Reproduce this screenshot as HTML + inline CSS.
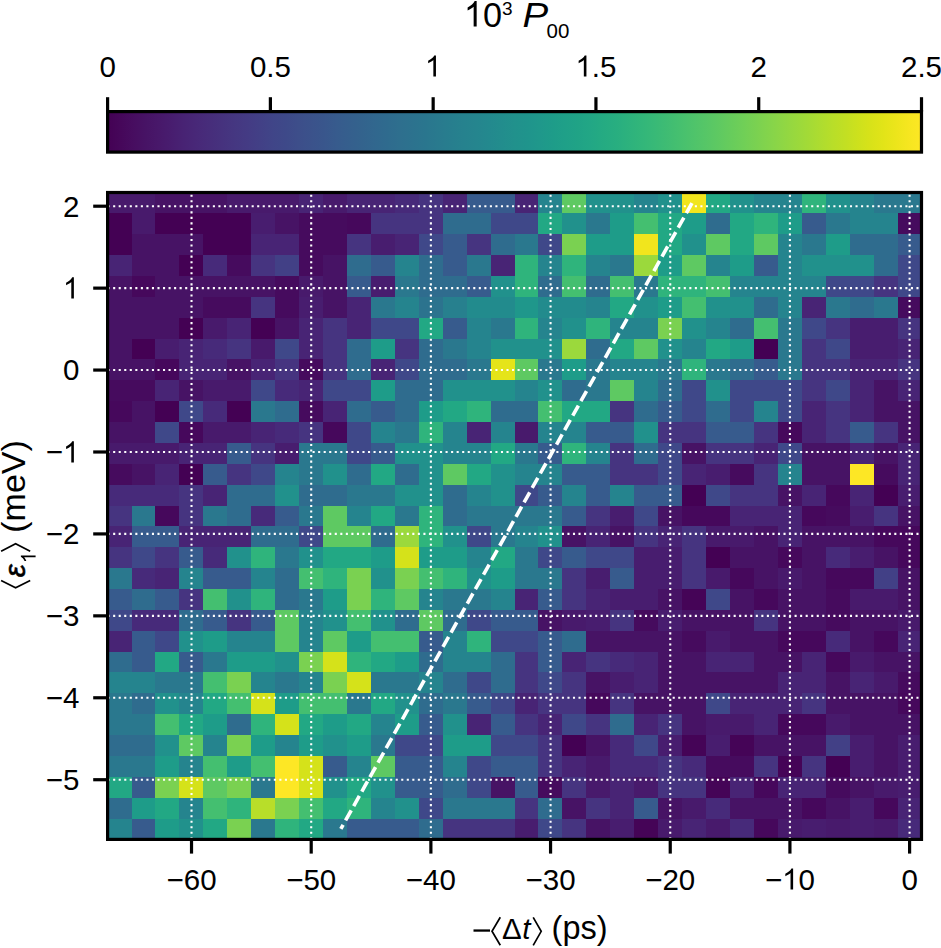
<!DOCTYPE html><html><head><meta charset="utf-8"><style>html,body{margin:0;padding:0;background:#fff;overflow:hidden}svg{display:block}text{font-family:"Liberation Sans",sans-serif;fill:#000}</style></head><body>
<svg width="941" height="948" viewBox="0 0 941 948">
<rect width="941" height="948" fill="#fff"/>
<defs><linearGradient id="vg" x1="0" x2="1" y1="0" y2="0">
<stop offset="0.0000" stop-color="#440154"/>
<stop offset="0.0156" stop-color="#46075a"/>
<stop offset="0.0312" stop-color="#470d60"/>
<stop offset="0.0469" stop-color="#471365"/>
<stop offset="0.0625" stop-color="#48186a"/>
<stop offset="0.0781" stop-color="#481d6f"/>
<stop offset="0.0938" stop-color="#482374"/>
<stop offset="0.1094" stop-color="#482878"/>
<stop offset="0.1250" stop-color="#472d7b"/>
<stop offset="0.1406" stop-color="#46327e"/>
<stop offset="0.1562" stop-color="#453781"/>
<stop offset="0.1719" stop-color="#443b84"/>
<stop offset="0.1875" stop-color="#424086"/>
<stop offset="0.2031" stop-color="#404588"/>
<stop offset="0.2188" stop-color="#3e4989"/>
<stop offset="0.2344" stop-color="#3d4e8a"/>
<stop offset="0.2500" stop-color="#3b528b"/>
<stop offset="0.2656" stop-color="#39568c"/>
<stop offset="0.2812" stop-color="#375b8d"/>
<stop offset="0.2969" stop-color="#355f8d"/>
<stop offset="0.3125" stop-color="#33638d"/>
<stop offset="0.3281" stop-color="#31678e"/>
<stop offset="0.3438" stop-color="#2f6b8e"/>
<stop offset="0.3594" stop-color="#2e6f8e"/>
<stop offset="0.3750" stop-color="#2c728e"/>
<stop offset="0.3906" stop-color="#2a768e"/>
<stop offset="0.4062" stop-color="#297a8e"/>
<stop offset="0.4219" stop-color="#277e8e"/>
<stop offset="0.4375" stop-color="#26828e"/>
<stop offset="0.4531" stop-color="#25858e"/>
<stop offset="0.4688" stop-color="#23898e"/>
<stop offset="0.4844" stop-color="#228d8d"/>
<stop offset="0.5000" stop-color="#21918c"/>
<stop offset="0.5156" stop-color="#1f948c"/>
<stop offset="0.5312" stop-color="#1f988b"/>
<stop offset="0.5469" stop-color="#1e9c89"/>
<stop offset="0.5625" stop-color="#1fa088"/>
<stop offset="0.5781" stop-color="#20a386"/>
<stop offset="0.5938" stop-color="#22a785"/>
<stop offset="0.6094" stop-color="#25ab82"/>
<stop offset="0.6250" stop-color="#28ae80"/>
<stop offset="0.6406" stop-color="#2db27d"/>
<stop offset="0.6562" stop-color="#32b67a"/>
<stop offset="0.6719" stop-color="#38b977"/>
<stop offset="0.6875" stop-color="#3fbc73"/>
<stop offset="0.7031" stop-color="#46c06f"/>
<stop offset="0.7188" stop-color="#4ec36b"/>
<stop offset="0.7344" stop-color="#56c667"/>
<stop offset="0.7500" stop-color="#5ec962"/>
<stop offset="0.7656" stop-color="#67cc5c"/>
<stop offset="0.7812" stop-color="#70cf57"/>
<stop offset="0.7969" stop-color="#7ad151"/>
<stop offset="0.8125" stop-color="#84d44b"/>
<stop offset="0.8281" stop-color="#8ed645"/>
<stop offset="0.8438" stop-color="#98d83e"/>
<stop offset="0.8594" stop-color="#a2da37"/>
<stop offset="0.8750" stop-color="#addc30"/>
<stop offset="0.8906" stop-color="#b8de29"/>
<stop offset="0.9062" stop-color="#c2df23"/>
<stop offset="0.9219" stop-color="#cde11d"/>
<stop offset="0.9375" stop-color="#d8e219"/>
<stop offset="0.9531" stop-color="#e2e418"/>
<stop offset="0.9688" stop-color="#ece51b"/>
<stop offset="0.9844" stop-color="#f6e620"/>
<stop offset="1.0000" stop-color="#fde725"/>
</linearGradient></defs>
<rect x="107.60" y="111.60" width="813.90" height="40.50" fill="url(#vg)"/>
<rect x="107.60" y="111.60" width="813.90" height="40.50" fill="none" stroke="#000" stroke-width="3.2"/>
<line x1="107.60" y1="111.60" x2="107.60" y2="97.2" stroke="#000" stroke-width="3.2"/>
<text x="99.40" y="76.60" font-size="29.50">0</text>
<line x1="270.38" y1="111.60" x2="270.38" y2="97.2" stroke="#000" stroke-width="3.2"/>
<text x="249.88" y="76.60" font-size="29.50">0.5</text>
<line x1="433.16" y1="111.60" x2="433.16" y2="97.2" stroke="#000" stroke-width="3.2"/>
<path transform="translate(424.96 76.60) scale(0.01440 -0.01440)" d="M763 0L583 0L583 1147Q518 1085 412 1023Q306 961 222 930L222 1104Q373 1175 486 1276Q599 1377 646 1472L763 1472Z"/>
<line x1="595.94" y1="111.60" x2="595.94" y2="97.2" stroke="#000" stroke-width="3.2"/>
<path transform="translate(575.44 76.60) scale(0.01440 -0.01440)" d="M763 0L583 0L583 1147Q518 1085 412 1023Q306 961 222 930L222 1104Q373 1175 486 1276Q599 1377 646 1472L763 1472Z"/><text x="591.84" y="76.60" font-size="29.50">.5</text>
<line x1="758.72" y1="111.60" x2="758.72" y2="97.2" stroke="#000" stroke-width="3.2"/>
<text x="750.52" y="76.60" font-size="29.50">2</text>
<line x1="921.50" y1="111.60" x2="921.50" y2="97.2" stroke="#000" stroke-width="3.2"/>
<text x="901.00" y="76.60" font-size="29.50">2.5</text>
<g transform="translate(463.9 26.6) scale(0.965 1)"><path transform="translate(0.00 0.00) scale(0.01733 -0.01733)" d="M763 0L583 0L583 1147Q518 1085 412 1023Q306 961 222 930L222 1104Q373 1175 486 1276Q599 1377 646 1472L763 1472Z"/><text x="19.74" y="0.00" font-size="35.50">0</text></g>
<text x="502.0" y="14.8" font-size="19">3</text>
<text transform="translate(522.6 26.5) scale(1.1 1)" x="0" y="0" font-size="35" font-style="italic">P</text>
<text x="546.5" y="37.6" font-size="20.5">00</text>
<g shape-rendering="crispEdges">
<rect x="107.60" y="192.50" width="24.54" height="21.47" fill="#481a6c"/>
<rect x="131.54" y="192.50" width="24.54" height="21.47" fill="#481a6c"/>
<rect x="155.48" y="192.50" width="24.54" height="21.47" fill="#471365"/>
<rect x="179.41" y="192.50" width="24.54" height="21.47" fill="#471365"/>
<rect x="203.35" y="192.50" width="24.54" height="21.47" fill="#471365"/>
<rect x="227.29" y="192.50" width="24.54" height="21.47" fill="#481a6c"/>
<rect x="251.23" y="192.50" width="24.54" height="21.47" fill="#481a6c"/>
<rect x="275.17" y="192.50" width="24.54" height="21.47" fill="#481a6c"/>
<rect x="299.11" y="192.50" width="24.54" height="21.47" fill="#482475"/>
<rect x="323.04" y="192.50" width="24.54" height="21.47" fill="#481a6c"/>
<rect x="346.98" y="192.50" width="24.54" height="21.47" fill="#482475"/>
<rect x="370.92" y="192.50" width="24.54" height="21.47" fill="#482475"/>
<rect x="394.86" y="192.50" width="24.54" height="21.47" fill="#472a7a"/>
<rect x="418.80" y="192.50" width="24.54" height="21.47" fill="#463480"/>
<rect x="442.74" y="192.50" width="24.54" height="21.47" fill="#482475"/>
<rect x="466.67" y="192.50" width="24.54" height="21.47" fill="#375b8d"/>
<rect x="490.61" y="192.50" width="24.54" height="21.47" fill="#375b8d"/>
<rect x="514.55" y="192.50" width="24.54" height="21.47" fill="#482475"/>
<rect x="538.49" y="192.50" width="24.54" height="21.47" fill="#25848e"/>
<rect x="562.43" y="192.50" width="24.54" height="21.47" fill="#5ec962"/>
<rect x="586.36" y="192.50" width="24.54" height="21.47" fill="#21918c"/>
<rect x="610.30" y="192.50" width="24.54" height="21.47" fill="#21918c"/>
<rect x="634.24" y="192.50" width="24.54" height="21.47" fill="#25848e"/>
<rect x="658.18" y="192.50" width="24.54" height="21.47" fill="#21918c"/>
<rect x="682.12" y="192.50" width="24.54" height="21.47" fill="#f1e51d"/>
<rect x="706.06" y="192.50" width="24.54" height="21.47" fill="#22a884"/>
<rect x="729.99" y="192.50" width="24.54" height="21.47" fill="#21918c"/>
<rect x="753.93" y="192.50" width="24.54" height="21.47" fill="#25848e"/>
<rect x="777.87" y="192.50" width="24.54" height="21.47" fill="#25848e"/>
<rect x="801.81" y="192.50" width="24.54" height="21.47" fill="#2fb47c"/>
<rect x="825.75" y="192.50" width="24.54" height="21.47" fill="#21918c"/>
<rect x="849.69" y="192.50" width="24.54" height="21.47" fill="#25848e"/>
<rect x="873.62" y="192.50" width="24.54" height="21.47" fill="#2a788e"/>
<rect x="897.56" y="192.50" width="24.54" height="21.47" fill="#2a788e"/>
<rect x="107.60" y="213.37" width="24.54" height="21.47" fill="#440154"/>
<rect x="131.54" y="213.37" width="24.54" height="21.47" fill="#481a6c"/>
<rect x="155.48" y="213.37" width="24.54" height="21.47" fill="#440154"/>
<rect x="179.41" y="213.37" width="24.54" height="21.47" fill="#440154"/>
<rect x="203.35" y="213.37" width="24.54" height="21.47" fill="#440154"/>
<rect x="227.29" y="213.37" width="24.54" height="21.47" fill="#440154"/>
<rect x="251.23" y="213.37" width="24.54" height="21.47" fill="#481d6f"/>
<rect x="275.17" y="213.37" width="24.54" height="21.47" fill="#471365"/>
<rect x="299.11" y="213.37" width="24.54" height="21.47" fill="#460b5e"/>
<rect x="323.04" y="213.37" width="24.54" height="21.47" fill="#460b5e"/>
<rect x="346.98" y="213.37" width="24.54" height="21.47" fill="#46085c"/>
<rect x="370.92" y="213.37" width="24.54" height="21.47" fill="#463480"/>
<rect x="394.86" y="213.37" width="24.54" height="21.47" fill="#463480"/>
<rect x="418.80" y="213.37" width="24.54" height="21.47" fill="#463480"/>
<rect x="442.74" y="213.37" width="24.54" height="21.47" fill="#2f6c8e"/>
<rect x="466.67" y="213.37" width="24.54" height="21.47" fill="#2f6c8e"/>
<rect x="490.61" y="213.37" width="24.54" height="21.47" fill="#3f4889"/>
<rect x="514.55" y="213.37" width="24.54" height="21.47" fill="#3f4889"/>
<rect x="538.49" y="213.37" width="24.54" height="21.47" fill="#22a884"/>
<rect x="562.43" y="213.37" width="24.54" height="21.47" fill="#21918c"/>
<rect x="586.36" y="213.37" width="24.54" height="21.47" fill="#2a788e"/>
<rect x="610.30" y="213.37" width="24.54" height="21.47" fill="#1e9c89"/>
<rect x="634.24" y="213.37" width="24.54" height="21.47" fill="#44bf70"/>
<rect x="658.18" y="213.37" width="24.54" height="21.47" fill="#22a884"/>
<rect x="682.12" y="213.37" width="24.54" height="21.47" fill="#1e9c89"/>
<rect x="706.06" y="213.37" width="24.54" height="21.47" fill="#2f6c8e"/>
<rect x="729.99" y="213.37" width="24.54" height="21.47" fill="#22a884"/>
<rect x="753.93" y="213.37" width="24.54" height="21.47" fill="#2fb47c"/>
<rect x="777.87" y="213.37" width="24.54" height="21.47" fill="#1e9c89"/>
<rect x="801.81" y="213.37" width="24.54" height="21.47" fill="#375b8d"/>
<rect x="825.75" y="213.37" width="24.54" height="21.47" fill="#2a788e"/>
<rect x="849.69" y="213.37" width="24.54" height="21.47" fill="#25848e"/>
<rect x="873.62" y="213.37" width="24.54" height="21.47" fill="#25848e"/>
<rect x="897.56" y="213.37" width="24.54" height="21.47" fill="#460b5e"/>
<rect x="107.60" y="234.24" width="24.54" height="21.47" fill="#440154"/>
<rect x="131.54" y="234.24" width="24.54" height="21.47" fill="#471365"/>
<rect x="155.48" y="234.24" width="24.54" height="21.47" fill="#471365"/>
<rect x="179.41" y="234.24" width="24.54" height="21.47" fill="#471365"/>
<rect x="203.35" y="234.24" width="24.54" height="21.47" fill="#440154"/>
<rect x="227.29" y="234.24" width="24.54" height="21.47" fill="#440154"/>
<rect x="251.23" y="234.24" width="24.54" height="21.47" fill="#482475"/>
<rect x="275.17" y="234.24" width="24.54" height="21.47" fill="#482475"/>
<rect x="299.11" y="234.24" width="24.54" height="21.47" fill="#460b5e"/>
<rect x="323.04" y="234.24" width="24.54" height="21.47" fill="#460b5e"/>
<rect x="346.98" y="234.24" width="24.54" height="21.47" fill="#463480"/>
<rect x="370.92" y="234.24" width="24.54" height="21.47" fill="#481d6f"/>
<rect x="394.86" y="234.24" width="24.54" height="21.47" fill="#482475"/>
<rect x="418.80" y="234.24" width="24.54" height="21.47" fill="#3f4889"/>
<rect x="442.74" y="234.24" width="24.54" height="21.47" fill="#375b8d"/>
<rect x="466.67" y="234.24" width="24.54" height="21.47" fill="#463480"/>
<rect x="490.61" y="234.24" width="24.54" height="21.47" fill="#2f6c8e"/>
<rect x="514.55" y="234.24" width="24.54" height="21.47" fill="#2a788e"/>
<rect x="538.49" y="234.24" width="24.54" height="21.47" fill="#3f4889"/>
<rect x="562.43" y="234.24" width="24.54" height="21.47" fill="#7ad151"/>
<rect x="586.36" y="234.24" width="24.54" height="21.47" fill="#1e9c89"/>
<rect x="610.30" y="234.24" width="24.54" height="21.47" fill="#1e9c89"/>
<rect x="634.24" y="234.24" width="24.54" height="21.47" fill="#f1e51d"/>
<rect x="658.18" y="234.24" width="24.54" height="21.47" fill="#22a884"/>
<rect x="682.12" y="234.24" width="24.54" height="21.47" fill="#21918c"/>
<rect x="706.06" y="234.24" width="24.54" height="21.47" fill="#5ec962"/>
<rect x="729.99" y="234.24" width="24.54" height="21.47" fill="#22a884"/>
<rect x="753.93" y="234.24" width="24.54" height="21.47" fill="#5ec962"/>
<rect x="777.87" y="234.24" width="24.54" height="21.47" fill="#25848e"/>
<rect x="801.81" y="234.24" width="24.54" height="21.47" fill="#2a788e"/>
<rect x="825.75" y="234.24" width="24.54" height="21.47" fill="#1e9c89"/>
<rect x="849.69" y="234.24" width="24.54" height="21.47" fill="#2f6c8e"/>
<rect x="873.62" y="234.24" width="24.54" height="21.47" fill="#2f6c8e"/>
<rect x="897.56" y="234.24" width="24.54" height="21.47" fill="#375b8d"/>
<rect x="107.60" y="255.10" width="24.54" height="21.47" fill="#482475"/>
<rect x="131.54" y="255.10" width="24.54" height="21.47" fill="#471365"/>
<rect x="155.48" y="255.10" width="24.54" height="21.47" fill="#471365"/>
<rect x="179.41" y="255.10" width="24.54" height="21.47" fill="#440154"/>
<rect x="203.35" y="255.10" width="24.54" height="21.47" fill="#472a7a"/>
<rect x="227.29" y="255.10" width="24.54" height="21.47" fill="#460b5e"/>
<rect x="251.23" y="255.10" width="24.54" height="21.47" fill="#463480"/>
<rect x="275.17" y="255.10" width="24.54" height="21.47" fill="#424086"/>
<rect x="299.11" y="255.10" width="24.54" height="21.47" fill="#460b5e"/>
<rect x="323.04" y="255.10" width="24.54" height="21.47" fill="#471365"/>
<rect x="346.98" y="255.10" width="24.54" height="21.47" fill="#2f6c8e"/>
<rect x="370.92" y="255.10" width="24.54" height="21.47" fill="#375b8d"/>
<rect x="394.86" y="255.10" width="24.54" height="21.47" fill="#25848e"/>
<rect x="418.80" y="255.10" width="24.54" height="21.47" fill="#2f6c8e"/>
<rect x="442.74" y="255.10" width="24.54" height="21.47" fill="#375b8d"/>
<rect x="466.67" y="255.10" width="24.54" height="21.47" fill="#2a788e"/>
<rect x="490.61" y="255.10" width="24.54" height="21.47" fill="#482475"/>
<rect x="514.55" y="255.10" width="24.54" height="21.47" fill="#2fb47c"/>
<rect x="538.49" y="255.10" width="24.54" height="21.47" fill="#25848e"/>
<rect x="562.43" y="255.10" width="24.54" height="21.47" fill="#2fb47c"/>
<rect x="586.36" y="255.10" width="24.54" height="21.47" fill="#25848e"/>
<rect x="610.30" y="255.10" width="24.54" height="21.47" fill="#2a788e"/>
<rect x="634.24" y="255.10" width="24.54" height="21.47" fill="#9bd93c"/>
<rect x="658.18" y="255.10" width="24.54" height="21.47" fill="#1e9c89"/>
<rect x="682.12" y="255.10" width="24.54" height="21.47" fill="#5ec962"/>
<rect x="706.06" y="255.10" width="24.54" height="21.47" fill="#25848e"/>
<rect x="729.99" y="255.10" width="24.54" height="21.47" fill="#1e9c89"/>
<rect x="753.93" y="255.10" width="24.54" height="21.47" fill="#375b8d"/>
<rect x="777.87" y="255.10" width="24.54" height="21.47" fill="#25848e"/>
<rect x="801.81" y="255.10" width="24.54" height="21.47" fill="#21918c"/>
<rect x="825.75" y="255.10" width="24.54" height="21.47" fill="#21918c"/>
<rect x="849.69" y="255.10" width="24.54" height="21.47" fill="#21918c"/>
<rect x="873.62" y="255.10" width="24.54" height="21.47" fill="#2f6c8e"/>
<rect x="897.56" y="255.10" width="24.54" height="21.47" fill="#3f4889"/>
<rect x="107.60" y="275.97" width="24.54" height="21.47" fill="#471365"/>
<rect x="131.54" y="275.97" width="24.54" height="21.47" fill="#46085c"/>
<rect x="155.48" y="275.97" width="24.54" height="21.47" fill="#471365"/>
<rect x="179.41" y="275.97" width="24.54" height="21.47" fill="#471365"/>
<rect x="203.35" y="275.97" width="24.54" height="21.47" fill="#471365"/>
<rect x="227.29" y="275.97" width="24.54" height="21.47" fill="#471365"/>
<rect x="251.23" y="275.97" width="24.54" height="21.47" fill="#471365"/>
<rect x="275.17" y="275.97" width="24.54" height="21.47" fill="#460b5e"/>
<rect x="299.11" y="275.97" width="24.54" height="21.47" fill="#481a6c"/>
<rect x="323.04" y="275.97" width="24.54" height="21.47" fill="#471365"/>
<rect x="346.98" y="275.97" width="24.54" height="21.47" fill="#375b8d"/>
<rect x="370.92" y="275.97" width="24.54" height="21.47" fill="#481d6f"/>
<rect x="394.86" y="275.97" width="24.54" height="21.47" fill="#2a788e"/>
<rect x="418.80" y="275.97" width="24.54" height="21.47" fill="#2f6c8e"/>
<rect x="442.74" y="275.97" width="24.54" height="21.47" fill="#2f6c8e"/>
<rect x="466.67" y="275.97" width="24.54" height="21.47" fill="#375b8d"/>
<rect x="490.61" y="275.97" width="24.54" height="21.47" fill="#21918c"/>
<rect x="514.55" y="275.97" width="24.54" height="21.47" fill="#2fb47c"/>
<rect x="538.49" y="275.97" width="24.54" height="21.47" fill="#2f6c8e"/>
<rect x="562.43" y="275.97" width="24.54" height="21.47" fill="#44bf70"/>
<rect x="586.36" y="275.97" width="24.54" height="21.47" fill="#2f6c8e"/>
<rect x="610.30" y="275.97" width="24.54" height="21.47" fill="#44bf70"/>
<rect x="634.24" y="275.97" width="24.54" height="21.47" fill="#2a788e"/>
<rect x="658.18" y="275.97" width="24.54" height="21.47" fill="#2fb47c"/>
<rect x="682.12" y="275.97" width="24.54" height="21.47" fill="#2fb47c"/>
<rect x="706.06" y="275.97" width="24.54" height="21.47" fill="#44bf70"/>
<rect x="729.99" y="275.97" width="24.54" height="21.47" fill="#25848e"/>
<rect x="753.93" y="275.97" width="24.54" height="21.47" fill="#25848e"/>
<rect x="777.87" y="275.97" width="24.54" height="21.47" fill="#25848e"/>
<rect x="801.81" y="275.97" width="24.54" height="21.47" fill="#25848e"/>
<rect x="825.75" y="275.97" width="24.54" height="21.47" fill="#3f4889"/>
<rect x="849.69" y="275.97" width="24.54" height="21.47" fill="#3f4889"/>
<rect x="873.62" y="275.97" width="24.54" height="21.47" fill="#463480"/>
<rect x="897.56" y="275.97" width="24.54" height="21.47" fill="#3f4889"/>
<rect x="107.60" y="296.84" width="24.54" height="21.47" fill="#471365"/>
<rect x="131.54" y="296.84" width="24.54" height="21.47" fill="#471365"/>
<rect x="155.48" y="296.84" width="24.54" height="21.47" fill="#471365"/>
<rect x="179.41" y="296.84" width="24.54" height="21.47" fill="#471365"/>
<rect x="203.35" y="296.84" width="24.54" height="21.47" fill="#460b5e"/>
<rect x="227.29" y="296.84" width="24.54" height="21.47" fill="#460b5e"/>
<rect x="251.23" y="296.84" width="24.54" height="21.47" fill="#463480"/>
<rect x="275.17" y="296.84" width="24.54" height="21.47" fill="#460b5e"/>
<rect x="299.11" y="296.84" width="24.54" height="21.47" fill="#481d6f"/>
<rect x="323.04" y="296.84" width="24.54" height="21.47" fill="#471365"/>
<rect x="346.98" y="296.84" width="24.54" height="21.47" fill="#482475"/>
<rect x="370.92" y="296.84" width="24.54" height="21.47" fill="#2a788e"/>
<rect x="394.86" y="296.84" width="24.54" height="21.47" fill="#25848e"/>
<rect x="418.80" y="296.84" width="24.54" height="21.47" fill="#2c738e"/>
<rect x="442.74" y="296.84" width="24.54" height="21.47" fill="#27808e"/>
<rect x="466.67" y="296.84" width="24.54" height="21.47" fill="#228b8d"/>
<rect x="490.61" y="296.84" width="24.54" height="21.47" fill="#228b8d"/>
<rect x="514.55" y="296.84" width="24.54" height="21.47" fill="#1f978b"/>
<rect x="538.49" y="296.84" width="24.54" height="21.47" fill="#228b8d"/>
<rect x="562.43" y="296.84" width="24.54" height="21.47" fill="#228b8d"/>
<rect x="586.36" y="296.84" width="24.54" height="21.47" fill="#25848e"/>
<rect x="610.30" y="296.84" width="24.54" height="21.47" fill="#22a884"/>
<rect x="634.24" y="296.84" width="24.54" height="21.47" fill="#21918c"/>
<rect x="658.18" y="296.84" width="24.54" height="21.47" fill="#1e9c89"/>
<rect x="682.12" y="296.84" width="24.54" height="21.47" fill="#44bf70"/>
<rect x="706.06" y="296.84" width="24.54" height="21.47" fill="#21918c"/>
<rect x="729.99" y="296.84" width="24.54" height="21.47" fill="#21918c"/>
<rect x="753.93" y="296.84" width="24.54" height="21.47" fill="#2f6c8e"/>
<rect x="777.87" y="296.84" width="24.54" height="21.47" fill="#25848e"/>
<rect x="801.81" y="296.84" width="24.54" height="21.47" fill="#482475"/>
<rect x="825.75" y="296.84" width="24.54" height="21.47" fill="#2a788e"/>
<rect x="849.69" y="296.84" width="24.54" height="21.47" fill="#2f6c8e"/>
<rect x="873.62" y="296.84" width="24.54" height="21.47" fill="#2a788e"/>
<rect x="897.56" y="296.84" width="24.54" height="21.47" fill="#460b5e"/>
<rect x="107.60" y="317.71" width="24.54" height="21.47" fill="#471365"/>
<rect x="131.54" y="317.71" width="24.54" height="21.47" fill="#471365"/>
<rect x="155.48" y="317.71" width="24.54" height="21.47" fill="#471365"/>
<rect x="179.41" y="317.71" width="24.54" height="21.47" fill="#440154"/>
<rect x="203.35" y="317.71" width="24.54" height="21.47" fill="#481a6c"/>
<rect x="227.29" y="317.71" width="24.54" height="21.47" fill="#482475"/>
<rect x="251.23" y="317.71" width="24.54" height="21.47" fill="#440154"/>
<rect x="275.17" y="317.71" width="24.54" height="21.47" fill="#471365"/>
<rect x="299.11" y="317.71" width="24.54" height="21.47" fill="#482475"/>
<rect x="323.04" y="317.71" width="24.54" height="21.47" fill="#463480"/>
<rect x="346.98" y="317.71" width="24.54" height="21.47" fill="#482475"/>
<rect x="370.92" y="317.71" width="24.54" height="21.47" fill="#3f4889"/>
<rect x="394.86" y="317.71" width="24.54" height="21.47" fill="#3f4889"/>
<rect x="418.80" y="317.71" width="24.54" height="21.47" fill="#22a884"/>
<rect x="442.74" y="317.71" width="24.54" height="21.47" fill="#375b8d"/>
<rect x="466.67" y="317.71" width="24.54" height="21.47" fill="#25848e"/>
<rect x="490.61" y="317.71" width="24.54" height="21.47" fill="#2a788e"/>
<rect x="514.55" y="317.71" width="24.54" height="21.47" fill="#2fb47c"/>
<rect x="538.49" y="317.71" width="24.54" height="21.47" fill="#25848e"/>
<rect x="562.43" y="317.71" width="24.54" height="21.47" fill="#21918c"/>
<rect x="586.36" y="317.71" width="24.54" height="21.47" fill="#2fb47c"/>
<rect x="610.30" y="317.71" width="24.54" height="21.47" fill="#25848e"/>
<rect x="634.24" y="317.71" width="24.54" height="21.47" fill="#25848e"/>
<rect x="658.18" y="317.71" width="24.54" height="21.47" fill="#7ad151"/>
<rect x="682.12" y="317.71" width="24.54" height="21.47" fill="#21918c"/>
<rect x="706.06" y="317.71" width="24.54" height="21.47" fill="#25848e"/>
<rect x="729.99" y="317.71" width="24.54" height="21.47" fill="#2f6c8e"/>
<rect x="753.93" y="317.71" width="24.54" height="21.47" fill="#44bf70"/>
<rect x="777.87" y="317.71" width="24.54" height="21.47" fill="#2a788e"/>
<rect x="801.81" y="317.71" width="24.54" height="21.47" fill="#3f4889"/>
<rect x="825.75" y="317.71" width="24.54" height="21.47" fill="#463480"/>
<rect x="849.69" y="317.71" width="24.54" height="21.47" fill="#481d6f"/>
<rect x="873.62" y="317.71" width="24.54" height="21.47" fill="#481d6f"/>
<rect x="897.56" y="317.71" width="24.54" height="21.47" fill="#463480"/>
<rect x="107.60" y="338.57" width="24.54" height="21.47" fill="#471365"/>
<rect x="131.54" y="338.57" width="24.54" height="21.47" fill="#440154"/>
<rect x="155.48" y="338.57" width="24.54" height="21.47" fill="#481d6f"/>
<rect x="179.41" y="338.57" width="24.54" height="21.47" fill="#482475"/>
<rect x="203.35" y="338.57" width="24.54" height="21.47" fill="#472a7a"/>
<rect x="227.29" y="338.57" width="24.54" height="21.47" fill="#463480"/>
<rect x="251.23" y="338.57" width="24.54" height="21.47" fill="#481a6c"/>
<rect x="275.17" y="338.57" width="24.54" height="21.47" fill="#3f4889"/>
<rect x="299.11" y="338.57" width="24.54" height="21.47" fill="#482475"/>
<rect x="323.04" y="338.57" width="24.54" height="21.47" fill="#463480"/>
<rect x="346.98" y="338.57" width="24.54" height="21.47" fill="#2f6c8e"/>
<rect x="370.92" y="338.57" width="24.54" height="21.47" fill="#1e9c89"/>
<rect x="394.86" y="338.57" width="24.54" height="21.47" fill="#463480"/>
<rect x="418.80" y="338.57" width="24.54" height="21.47" fill="#2f6c8e"/>
<rect x="442.74" y="338.57" width="24.54" height="21.47" fill="#2a788e"/>
<rect x="466.67" y="338.57" width="24.54" height="21.47" fill="#25848e"/>
<rect x="490.61" y="338.57" width="24.54" height="21.47" fill="#21918c"/>
<rect x="514.55" y="338.57" width="24.54" height="21.47" fill="#21918c"/>
<rect x="538.49" y="338.57" width="24.54" height="21.47" fill="#21918c"/>
<rect x="562.43" y="338.57" width="24.54" height="21.47" fill="#9bd93c"/>
<rect x="586.36" y="338.57" width="24.54" height="21.47" fill="#2f6c8e"/>
<rect x="610.30" y="338.57" width="24.54" height="21.47" fill="#22a884"/>
<rect x="634.24" y="338.57" width="24.54" height="21.47" fill="#5ec962"/>
<rect x="658.18" y="338.57" width="24.54" height="21.47" fill="#21918c"/>
<rect x="682.12" y="338.57" width="24.54" height="21.47" fill="#25848e"/>
<rect x="706.06" y="338.57" width="24.54" height="21.47" fill="#22a884"/>
<rect x="729.99" y="338.57" width="24.54" height="21.47" fill="#1e9c89"/>
<rect x="753.93" y="338.57" width="24.54" height="21.47" fill="#440154"/>
<rect x="777.87" y="338.57" width="24.54" height="21.47" fill="#2a788e"/>
<rect x="801.81" y="338.57" width="24.54" height="21.47" fill="#463480"/>
<rect x="825.75" y="338.57" width="24.54" height="21.47" fill="#3f4889"/>
<rect x="849.69" y="338.57" width="24.54" height="21.47" fill="#481d6f"/>
<rect x="873.62" y="338.57" width="24.54" height="21.47" fill="#481d6f"/>
<rect x="897.56" y="338.57" width="24.54" height="21.47" fill="#482475"/>
<rect x="107.60" y="359.44" width="24.54" height="21.47" fill="#471365"/>
<rect x="131.54" y="359.44" width="24.54" height="21.47" fill="#471365"/>
<rect x="155.48" y="359.44" width="24.54" height="21.47" fill="#46085c"/>
<rect x="179.41" y="359.44" width="24.54" height="21.47" fill="#482475"/>
<rect x="203.35" y="359.44" width="24.54" height="21.47" fill="#482475"/>
<rect x="227.29" y="359.44" width="24.54" height="21.47" fill="#471365"/>
<rect x="251.23" y="359.44" width="24.54" height="21.47" fill="#482475"/>
<rect x="275.17" y="359.44" width="24.54" height="21.47" fill="#463480"/>
<rect x="299.11" y="359.44" width="24.54" height="21.47" fill="#460b5e"/>
<rect x="323.04" y="359.44" width="24.54" height="21.47" fill="#463480"/>
<rect x="346.98" y="359.44" width="24.54" height="21.47" fill="#2f6c8e"/>
<rect x="370.92" y="359.44" width="24.54" height="21.47" fill="#482475"/>
<rect x="394.86" y="359.44" width="24.54" height="21.47" fill="#3f4889"/>
<rect x="418.80" y="359.44" width="24.54" height="21.47" fill="#2f6c8e"/>
<rect x="442.74" y="359.44" width="24.54" height="21.47" fill="#2f6c8e"/>
<rect x="466.67" y="359.44" width="24.54" height="21.47" fill="#2a788e"/>
<rect x="490.61" y="359.44" width="24.54" height="21.47" fill="#e5e419"/>
<rect x="514.55" y="359.44" width="24.54" height="21.47" fill="#5ec962"/>
<rect x="538.49" y="359.44" width="24.54" height="21.47" fill="#2a788e"/>
<rect x="562.43" y="359.44" width="24.54" height="21.47" fill="#1e9c89"/>
<rect x="586.36" y="359.44" width="24.54" height="21.47" fill="#2a788e"/>
<rect x="610.30" y="359.44" width="24.54" height="21.47" fill="#25848e"/>
<rect x="634.24" y="359.44" width="24.54" height="21.47" fill="#25848e"/>
<rect x="658.18" y="359.44" width="24.54" height="21.47" fill="#2a788e"/>
<rect x="682.12" y="359.44" width="24.54" height="21.47" fill="#2fb47c"/>
<rect x="706.06" y="359.44" width="24.54" height="21.47" fill="#2a788e"/>
<rect x="729.99" y="359.44" width="24.54" height="21.47" fill="#2f6c8e"/>
<rect x="753.93" y="359.44" width="24.54" height="21.47" fill="#375b8d"/>
<rect x="777.87" y="359.44" width="24.54" height="21.47" fill="#2a788e"/>
<rect x="801.81" y="359.44" width="24.54" height="21.47" fill="#463480"/>
<rect x="825.75" y="359.44" width="24.54" height="21.47" fill="#463480"/>
<rect x="849.69" y="359.44" width="24.54" height="21.47" fill="#482475"/>
<rect x="873.62" y="359.44" width="24.54" height="21.47" fill="#482475"/>
<rect x="897.56" y="359.44" width="24.54" height="21.47" fill="#463480"/>
<rect x="107.60" y="380.31" width="24.54" height="21.47" fill="#460b5e"/>
<rect x="131.54" y="380.31" width="24.54" height="21.47" fill="#460b5e"/>
<rect x="155.48" y="380.31" width="24.54" height="21.47" fill="#482475"/>
<rect x="179.41" y="380.31" width="24.54" height="21.47" fill="#471365"/>
<rect x="203.35" y="380.31" width="24.54" height="21.47" fill="#481a6c"/>
<rect x="227.29" y="380.31" width="24.54" height="21.47" fill="#481a6c"/>
<rect x="251.23" y="380.31" width="24.54" height="21.47" fill="#3f4889"/>
<rect x="275.17" y="380.31" width="24.54" height="21.47" fill="#472a7a"/>
<rect x="299.11" y="380.31" width="24.54" height="21.47" fill="#482475"/>
<rect x="323.04" y="380.31" width="24.54" height="21.47" fill="#3f4889"/>
<rect x="346.98" y="380.31" width="24.54" height="21.47" fill="#3f4889"/>
<rect x="370.92" y="380.31" width="24.54" height="21.47" fill="#1e9c89"/>
<rect x="394.86" y="380.31" width="24.54" height="21.47" fill="#2f6c8e"/>
<rect x="418.80" y="380.31" width="24.54" height="21.47" fill="#2f6c8e"/>
<rect x="442.74" y="380.31" width="24.54" height="21.47" fill="#21918c"/>
<rect x="466.67" y="380.31" width="24.54" height="21.47" fill="#21918c"/>
<rect x="490.61" y="380.31" width="24.54" height="21.47" fill="#21918c"/>
<rect x="514.55" y="380.31" width="24.54" height="21.47" fill="#25848e"/>
<rect x="538.49" y="380.31" width="24.54" height="21.47" fill="#21918c"/>
<rect x="562.43" y="380.31" width="24.54" height="21.47" fill="#2f6c8e"/>
<rect x="586.36" y="380.31" width="24.54" height="21.47" fill="#2a788e"/>
<rect x="610.30" y="380.31" width="24.54" height="21.47" fill="#5ec962"/>
<rect x="634.24" y="380.31" width="24.54" height="21.47" fill="#25848e"/>
<rect x="658.18" y="380.31" width="24.54" height="21.47" fill="#2f6c8e"/>
<rect x="682.12" y="380.31" width="24.54" height="21.47" fill="#3f4889"/>
<rect x="706.06" y="380.31" width="24.54" height="21.47" fill="#21918c"/>
<rect x="729.99" y="380.31" width="24.54" height="21.47" fill="#3f4889"/>
<rect x="753.93" y="380.31" width="24.54" height="21.47" fill="#3f4889"/>
<rect x="777.87" y="380.31" width="24.54" height="21.47" fill="#3f4889"/>
<rect x="801.81" y="380.31" width="24.54" height="21.47" fill="#463480"/>
<rect x="825.75" y="380.31" width="24.54" height="21.47" fill="#3f4889"/>
<rect x="849.69" y="380.31" width="24.54" height="21.47" fill="#482475"/>
<rect x="873.62" y="380.31" width="24.54" height="21.47" fill="#471365"/>
<rect x="897.56" y="380.31" width="24.54" height="21.47" fill="#482475"/>
<rect x="107.60" y="401.18" width="24.54" height="21.47" fill="#46085c"/>
<rect x="131.54" y="401.18" width="24.54" height="21.47" fill="#471365"/>
<rect x="155.48" y="401.18" width="24.54" height="21.47" fill="#440154"/>
<rect x="179.41" y="401.18" width="24.54" height="21.47" fill="#3f4889"/>
<rect x="203.35" y="401.18" width="24.54" height="21.47" fill="#472a7a"/>
<rect x="227.29" y="401.18" width="24.54" height="21.47" fill="#440154"/>
<rect x="251.23" y="401.18" width="24.54" height="21.47" fill="#2a788e"/>
<rect x="275.17" y="401.18" width="24.54" height="21.47" fill="#2f6c8e"/>
<rect x="299.11" y="401.18" width="24.54" height="21.47" fill="#460b5e"/>
<rect x="323.04" y="401.18" width="24.54" height="21.47" fill="#482475"/>
<rect x="346.98" y="401.18" width="24.54" height="21.47" fill="#2f6c8e"/>
<rect x="370.92" y="401.18" width="24.54" height="21.47" fill="#375b8d"/>
<rect x="394.86" y="401.18" width="24.54" height="21.47" fill="#2f6c8e"/>
<rect x="418.80" y="401.18" width="24.54" height="21.47" fill="#1e9c89"/>
<rect x="442.74" y="401.18" width="24.54" height="21.47" fill="#22a884"/>
<rect x="466.67" y="401.18" width="24.54" height="21.47" fill="#2fb47c"/>
<rect x="490.61" y="401.18" width="24.54" height="21.47" fill="#2f6c8e"/>
<rect x="514.55" y="401.18" width="24.54" height="21.47" fill="#2f6c8e"/>
<rect x="538.49" y="401.18" width="24.54" height="21.47" fill="#44bf70"/>
<rect x="562.43" y="401.18" width="24.54" height="21.47" fill="#22a884"/>
<rect x="586.36" y="401.18" width="24.54" height="21.47" fill="#22a884"/>
<rect x="610.30" y="401.18" width="24.54" height="21.47" fill="#463480"/>
<rect x="634.24" y="401.18" width="24.54" height="21.47" fill="#2f6c8e"/>
<rect x="658.18" y="401.18" width="24.54" height="21.47" fill="#375b8d"/>
<rect x="682.12" y="401.18" width="24.54" height="21.47" fill="#3f4889"/>
<rect x="706.06" y="401.18" width="24.54" height="21.47" fill="#2f6c8e"/>
<rect x="729.99" y="401.18" width="24.54" height="21.47" fill="#3f4889"/>
<rect x="753.93" y="401.18" width="24.54" height="21.47" fill="#25848e"/>
<rect x="777.87" y="401.18" width="24.54" height="21.47" fill="#3f4889"/>
<rect x="801.81" y="401.18" width="24.54" height="21.47" fill="#482475"/>
<rect x="825.75" y="401.18" width="24.54" height="21.47" fill="#463480"/>
<rect x="849.69" y="401.18" width="24.54" height="21.47" fill="#482475"/>
<rect x="873.62" y="401.18" width="24.54" height="21.47" fill="#471365"/>
<rect x="897.56" y="401.18" width="24.54" height="21.47" fill="#471365"/>
<rect x="107.60" y="422.05" width="24.54" height="21.47" fill="#471365"/>
<rect x="131.54" y="422.05" width="24.54" height="21.47" fill="#471365"/>
<rect x="155.48" y="422.05" width="24.54" height="21.47" fill="#3f4889"/>
<rect x="179.41" y="422.05" width="24.54" height="21.47" fill="#46085c"/>
<rect x="203.35" y="422.05" width="24.54" height="21.47" fill="#481a6c"/>
<rect x="227.29" y="422.05" width="24.54" height="21.47" fill="#481a6c"/>
<rect x="251.23" y="422.05" width="24.54" height="21.47" fill="#482475"/>
<rect x="275.17" y="422.05" width="24.54" height="21.47" fill="#472a7a"/>
<rect x="299.11" y="422.05" width="24.54" height="21.47" fill="#463480"/>
<rect x="323.04" y="422.05" width="24.54" height="21.47" fill="#46085c"/>
<rect x="346.98" y="422.05" width="24.54" height="21.47" fill="#3f4889"/>
<rect x="370.92" y="422.05" width="24.54" height="21.47" fill="#25848e"/>
<rect x="394.86" y="422.05" width="24.54" height="21.47" fill="#2a788e"/>
<rect x="418.80" y="422.05" width="24.54" height="21.47" fill="#2fb47c"/>
<rect x="442.74" y="422.05" width="24.54" height="21.47" fill="#25848e"/>
<rect x="466.67" y="422.05" width="24.54" height="21.47" fill="#482475"/>
<rect x="490.61" y="422.05" width="24.54" height="21.47" fill="#25848e"/>
<rect x="514.55" y="422.05" width="24.54" height="21.47" fill="#481a6c"/>
<rect x="538.49" y="422.05" width="24.54" height="21.47" fill="#25848e"/>
<rect x="562.43" y="422.05" width="24.54" height="21.47" fill="#25848e"/>
<rect x="586.36" y="422.05" width="24.54" height="21.47" fill="#375b8d"/>
<rect x="610.30" y="422.05" width="24.54" height="21.47" fill="#375b8d"/>
<rect x="634.24" y="422.05" width="24.54" height="21.47" fill="#21918c"/>
<rect x="658.18" y="422.05" width="24.54" height="21.47" fill="#463480"/>
<rect x="682.12" y="422.05" width="24.54" height="21.47" fill="#463480"/>
<rect x="706.06" y="422.05" width="24.54" height="21.47" fill="#375b8d"/>
<rect x="729.99" y="422.05" width="24.54" height="21.47" fill="#375b8d"/>
<rect x="753.93" y="422.05" width="24.54" height="21.47" fill="#463480"/>
<rect x="777.87" y="422.05" width="24.54" height="21.47" fill="#46085c"/>
<rect x="801.81" y="422.05" width="24.54" height="21.47" fill="#482475"/>
<rect x="825.75" y="422.05" width="24.54" height="21.47" fill="#463480"/>
<rect x="849.69" y="422.05" width="24.54" height="21.47" fill="#375b8d"/>
<rect x="873.62" y="422.05" width="24.54" height="21.47" fill="#463480"/>
<rect x="897.56" y="422.05" width="24.54" height="21.47" fill="#471365"/>
<rect x="107.60" y="442.91" width="24.54" height="21.47" fill="#481a6c"/>
<rect x="131.54" y="442.91" width="24.54" height="21.47" fill="#481a6c"/>
<rect x="155.48" y="442.91" width="24.54" height="21.47" fill="#481a6c"/>
<rect x="179.41" y="442.91" width="24.54" height="21.47" fill="#482475"/>
<rect x="203.35" y="442.91" width="24.54" height="21.47" fill="#482475"/>
<rect x="227.29" y="442.91" width="24.54" height="21.47" fill="#375b8d"/>
<rect x="251.23" y="442.91" width="24.54" height="21.47" fill="#463480"/>
<rect x="275.17" y="442.91" width="24.54" height="21.47" fill="#481d6f"/>
<rect x="299.11" y="442.91" width="24.54" height="21.47" fill="#2a788e"/>
<rect x="323.04" y="442.91" width="24.54" height="21.47" fill="#2a788e"/>
<rect x="346.98" y="442.91" width="24.54" height="21.47" fill="#3f4889"/>
<rect x="370.92" y="442.91" width="24.54" height="21.47" fill="#375b8d"/>
<rect x="394.86" y="442.91" width="24.54" height="21.47" fill="#21918c"/>
<rect x="418.80" y="442.91" width="24.54" height="21.47" fill="#21918c"/>
<rect x="442.74" y="442.91" width="24.54" height="21.47" fill="#25848e"/>
<rect x="466.67" y="442.91" width="24.54" height="21.47" fill="#25848e"/>
<rect x="490.61" y="442.91" width="24.54" height="21.47" fill="#22a884"/>
<rect x="514.55" y="442.91" width="24.54" height="21.47" fill="#2a788e"/>
<rect x="538.49" y="442.91" width="24.54" height="21.47" fill="#375b8d"/>
<rect x="562.43" y="442.91" width="24.54" height="21.47" fill="#2fb47c"/>
<rect x="586.36" y="442.91" width="24.54" height="21.47" fill="#25848e"/>
<rect x="610.30" y="442.91" width="24.54" height="21.47" fill="#463480"/>
<rect x="634.24" y="442.91" width="24.54" height="21.47" fill="#2f6c8e"/>
<rect x="658.18" y="442.91" width="24.54" height="21.47" fill="#3f4889"/>
<rect x="682.12" y="442.91" width="24.54" height="21.47" fill="#471365"/>
<rect x="706.06" y="442.91" width="24.54" height="21.47" fill="#463480"/>
<rect x="729.99" y="442.91" width="24.54" height="21.47" fill="#463480"/>
<rect x="753.93" y="442.91" width="24.54" height="21.47" fill="#482475"/>
<rect x="777.87" y="442.91" width="24.54" height="21.47" fill="#3f4889"/>
<rect x="801.81" y="442.91" width="24.54" height="21.47" fill="#471365"/>
<rect x="825.75" y="442.91" width="24.54" height="21.47" fill="#471365"/>
<rect x="849.69" y="442.91" width="24.54" height="21.47" fill="#482475"/>
<rect x="873.62" y="442.91" width="24.54" height="21.47" fill="#471365"/>
<rect x="897.56" y="442.91" width="24.54" height="21.47" fill="#482475"/>
<rect x="107.60" y="463.78" width="24.54" height="21.47" fill="#460b5e"/>
<rect x="131.54" y="463.78" width="24.54" height="21.47" fill="#471365"/>
<rect x="155.48" y="463.78" width="24.54" height="21.47" fill="#482475"/>
<rect x="179.41" y="463.78" width="24.54" height="21.47" fill="#440154"/>
<rect x="203.35" y="463.78" width="24.54" height="21.47" fill="#375b8d"/>
<rect x="227.29" y="463.78" width="24.54" height="21.47" fill="#463480"/>
<rect x="251.23" y="463.78" width="24.54" height="21.47" fill="#3f4889"/>
<rect x="275.17" y="463.78" width="24.54" height="21.47" fill="#25848e"/>
<rect x="299.11" y="463.78" width="24.54" height="21.47" fill="#2a788e"/>
<rect x="323.04" y="463.78" width="24.54" height="21.47" fill="#21918c"/>
<rect x="346.98" y="463.78" width="24.54" height="21.47" fill="#2f6c8e"/>
<rect x="370.92" y="463.78" width="24.54" height="21.47" fill="#22a884"/>
<rect x="394.86" y="463.78" width="24.54" height="21.47" fill="#2f6c8e"/>
<rect x="418.80" y="463.78" width="24.54" height="21.47" fill="#21918c"/>
<rect x="442.74" y="463.78" width="24.54" height="21.47" fill="#5ec962"/>
<rect x="466.67" y="463.78" width="24.54" height="21.47" fill="#22a884"/>
<rect x="490.61" y="463.78" width="24.54" height="21.47" fill="#21918c"/>
<rect x="514.55" y="463.78" width="24.54" height="21.47" fill="#25848e"/>
<rect x="538.49" y="463.78" width="24.54" height="21.47" fill="#25848e"/>
<rect x="562.43" y="463.78" width="24.54" height="21.47" fill="#375b8d"/>
<rect x="586.36" y="463.78" width="24.54" height="21.47" fill="#375b8d"/>
<rect x="610.30" y="463.78" width="24.54" height="21.47" fill="#463480"/>
<rect x="634.24" y="463.78" width="24.54" height="21.47" fill="#463480"/>
<rect x="658.18" y="463.78" width="24.54" height="21.47" fill="#3f4889"/>
<rect x="682.12" y="463.78" width="24.54" height="21.47" fill="#482475"/>
<rect x="706.06" y="463.78" width="24.54" height="21.47" fill="#481d6f"/>
<rect x="729.99" y="463.78" width="24.54" height="21.47" fill="#460b5e"/>
<rect x="753.93" y="463.78" width="24.54" height="21.47" fill="#463480"/>
<rect x="777.87" y="463.78" width="24.54" height="21.47" fill="#25848e"/>
<rect x="801.81" y="463.78" width="24.54" height="21.47" fill="#471365"/>
<rect x="825.75" y="463.78" width="24.54" height="21.47" fill="#471365"/>
<rect x="849.69" y="463.78" width="24.54" height="21.47" fill="#fde725"/>
<rect x="873.62" y="463.78" width="24.54" height="21.47" fill="#460b5e"/>
<rect x="897.56" y="463.78" width="24.54" height="21.47" fill="#482475"/>
<rect x="107.60" y="484.65" width="24.54" height="21.47" fill="#472a7a"/>
<rect x="131.54" y="484.65" width="24.54" height="21.47" fill="#472a7a"/>
<rect x="155.48" y="484.65" width="24.54" height="21.47" fill="#472a7a"/>
<rect x="179.41" y="484.65" width="24.54" height="21.47" fill="#463480"/>
<rect x="203.35" y="484.65" width="24.54" height="21.47" fill="#482475"/>
<rect x="227.29" y="484.65" width="24.54" height="21.47" fill="#2f6c8e"/>
<rect x="251.23" y="484.65" width="24.54" height="21.47" fill="#2f6c8e"/>
<rect x="275.17" y="484.65" width="24.54" height="21.47" fill="#21918c"/>
<rect x="299.11" y="484.65" width="24.54" height="21.47" fill="#2f6c8e"/>
<rect x="323.04" y="484.65" width="24.54" height="21.47" fill="#2f6c8e"/>
<rect x="346.98" y="484.65" width="24.54" height="21.47" fill="#2a788e"/>
<rect x="370.92" y="484.65" width="24.54" height="21.47" fill="#2a788e"/>
<rect x="394.86" y="484.65" width="24.54" height="21.47" fill="#21918c"/>
<rect x="418.80" y="484.65" width="24.54" height="21.47" fill="#21918c"/>
<rect x="442.74" y="484.65" width="24.54" height="21.47" fill="#2f6c8e"/>
<rect x="466.67" y="484.65" width="24.54" height="21.47" fill="#25848e"/>
<rect x="490.61" y="484.65" width="24.54" height="21.47" fill="#21918c"/>
<rect x="514.55" y="484.65" width="24.54" height="21.47" fill="#3f4889"/>
<rect x="538.49" y="484.65" width="24.54" height="21.47" fill="#375b8d"/>
<rect x="562.43" y="484.65" width="24.54" height="21.47" fill="#25848e"/>
<rect x="586.36" y="484.65" width="24.54" height="21.47" fill="#375b8d"/>
<rect x="610.30" y="484.65" width="24.54" height="21.47" fill="#25848e"/>
<rect x="634.24" y="484.65" width="24.54" height="21.47" fill="#375b8d"/>
<rect x="658.18" y="484.65" width="24.54" height="21.47" fill="#375b8d"/>
<rect x="682.12" y="484.65" width="24.54" height="21.47" fill="#440154"/>
<rect x="706.06" y="484.65" width="24.54" height="21.47" fill="#3f4889"/>
<rect x="729.99" y="484.65" width="24.54" height="21.47" fill="#463480"/>
<rect x="753.93" y="484.65" width="24.54" height="21.47" fill="#463480"/>
<rect x="777.87" y="484.65" width="24.54" height="21.47" fill="#471365"/>
<rect x="801.81" y="484.65" width="24.54" height="21.47" fill="#482475"/>
<rect x="825.75" y="484.65" width="24.54" height="21.47" fill="#46085c"/>
<rect x="849.69" y="484.65" width="24.54" height="21.47" fill="#482475"/>
<rect x="873.62" y="484.65" width="24.54" height="21.47" fill="#440154"/>
<rect x="897.56" y="484.65" width="24.54" height="21.47" fill="#481d6f"/>
<rect x="107.60" y="505.52" width="24.54" height="21.47" fill="#463480"/>
<rect x="131.54" y="505.52" width="24.54" height="21.47" fill="#2a788e"/>
<rect x="155.48" y="505.52" width="24.54" height="21.47" fill="#46085c"/>
<rect x="179.41" y="505.52" width="24.54" height="21.47" fill="#463480"/>
<rect x="203.35" y="505.52" width="24.54" height="21.47" fill="#2a788e"/>
<rect x="227.29" y="505.52" width="24.54" height="21.47" fill="#2f6c8e"/>
<rect x="251.23" y="505.52" width="24.54" height="21.47" fill="#472a7a"/>
<rect x="275.17" y="505.52" width="24.54" height="21.47" fill="#375b8d"/>
<rect x="299.11" y="505.52" width="24.54" height="21.47" fill="#2a788e"/>
<rect x="323.04" y="505.52" width="24.54" height="21.47" fill="#5ec962"/>
<rect x="346.98" y="505.52" width="24.54" height="21.47" fill="#25848e"/>
<rect x="370.92" y="505.52" width="24.54" height="21.47" fill="#22a884"/>
<rect x="394.86" y="505.52" width="24.54" height="21.47" fill="#2a788e"/>
<rect x="418.80" y="505.52" width="24.54" height="21.47" fill="#2fb47c"/>
<rect x="442.74" y="505.52" width="24.54" height="21.47" fill="#2f6c8e"/>
<rect x="466.67" y="505.52" width="24.54" height="21.47" fill="#2a788e"/>
<rect x="490.61" y="505.52" width="24.54" height="21.47" fill="#2a788e"/>
<rect x="514.55" y="505.52" width="24.54" height="21.47" fill="#2a788e"/>
<rect x="538.49" y="505.52" width="24.54" height="21.47" fill="#2a788e"/>
<rect x="562.43" y="505.52" width="24.54" height="21.47" fill="#375b8d"/>
<rect x="586.36" y="505.52" width="24.54" height="21.47" fill="#463480"/>
<rect x="610.30" y="505.52" width="24.54" height="21.47" fill="#481d6f"/>
<rect x="634.24" y="505.52" width="24.54" height="21.47" fill="#3f4889"/>
<rect x="658.18" y="505.52" width="24.54" height="21.47" fill="#471365"/>
<rect x="682.12" y="505.52" width="24.54" height="21.47" fill="#46085c"/>
<rect x="706.06" y="505.52" width="24.54" height="21.47" fill="#46085c"/>
<rect x="729.99" y="505.52" width="24.54" height="21.47" fill="#482475"/>
<rect x="753.93" y="505.52" width="24.54" height="21.47" fill="#482475"/>
<rect x="777.87" y="505.52" width="24.54" height="21.47" fill="#482475"/>
<rect x="801.81" y="505.52" width="24.54" height="21.47" fill="#46085c"/>
<rect x="825.75" y="505.52" width="24.54" height="21.47" fill="#460b5e"/>
<rect x="849.69" y="505.52" width="24.54" height="21.47" fill="#481d6f"/>
<rect x="873.62" y="505.52" width="24.54" height="21.47" fill="#463480"/>
<rect x="897.56" y="505.52" width="24.54" height="21.47" fill="#471365"/>
<rect x="107.60" y="526.38" width="24.54" height="21.47" fill="#482475"/>
<rect x="131.54" y="526.38" width="24.54" height="21.47" fill="#375b8d"/>
<rect x="155.48" y="526.38" width="24.54" height="21.47" fill="#375b8d"/>
<rect x="179.41" y="526.38" width="24.54" height="21.47" fill="#482475"/>
<rect x="203.35" y="526.38" width="24.54" height="21.47" fill="#482475"/>
<rect x="227.29" y="526.38" width="24.54" height="21.47" fill="#482475"/>
<rect x="251.23" y="526.38" width="24.54" height="21.47" fill="#2f6c8e"/>
<rect x="275.17" y="526.38" width="24.54" height="21.47" fill="#2f6c8e"/>
<rect x="299.11" y="526.38" width="24.54" height="21.47" fill="#3f4889"/>
<rect x="323.04" y="526.38" width="24.54" height="21.47" fill="#5ec962"/>
<rect x="346.98" y="526.38" width="24.54" height="21.47" fill="#5ec962"/>
<rect x="370.92" y="526.38" width="24.54" height="21.47" fill="#2f6c8e"/>
<rect x="394.86" y="526.38" width="24.54" height="21.47" fill="#9bd93c"/>
<rect x="418.80" y="526.38" width="24.54" height="21.47" fill="#2fb47c"/>
<rect x="442.74" y="526.38" width="24.54" height="21.47" fill="#21918c"/>
<rect x="466.67" y="526.38" width="24.54" height="21.47" fill="#3f4889"/>
<rect x="490.61" y="526.38" width="24.54" height="21.47" fill="#2a788e"/>
<rect x="514.55" y="526.38" width="24.54" height="21.47" fill="#25848e"/>
<rect x="538.49" y="526.38" width="24.54" height="21.47" fill="#21918c"/>
<rect x="562.43" y="526.38" width="24.54" height="21.47" fill="#471365"/>
<rect x="586.36" y="526.38" width="24.54" height="21.47" fill="#482475"/>
<rect x="610.30" y="526.38" width="24.54" height="21.47" fill="#471365"/>
<rect x="634.24" y="526.38" width="24.54" height="21.47" fill="#463480"/>
<rect x="658.18" y="526.38" width="24.54" height="21.47" fill="#482475"/>
<rect x="682.12" y="526.38" width="24.54" height="21.47" fill="#463480"/>
<rect x="706.06" y="526.38" width="24.54" height="21.47" fill="#481a6c"/>
<rect x="729.99" y="526.38" width="24.54" height="21.47" fill="#481a6c"/>
<rect x="753.93" y="526.38" width="24.54" height="21.47" fill="#471365"/>
<rect x="777.87" y="526.38" width="24.54" height="21.47" fill="#482475"/>
<rect x="801.81" y="526.38" width="24.54" height="21.47" fill="#471365"/>
<rect x="825.75" y="526.38" width="24.54" height="21.47" fill="#471365"/>
<rect x="849.69" y="526.38" width="24.54" height="21.47" fill="#471365"/>
<rect x="873.62" y="526.38" width="24.54" height="21.47" fill="#46085c"/>
<rect x="897.56" y="526.38" width="24.54" height="21.47" fill="#46085c"/>
<rect x="107.60" y="547.25" width="24.54" height="21.47" fill="#463480"/>
<rect x="131.54" y="547.25" width="24.54" height="21.47" fill="#3f4889"/>
<rect x="155.48" y="547.25" width="24.54" height="21.47" fill="#463480"/>
<rect x="179.41" y="547.25" width="24.54" height="21.47" fill="#375b8d"/>
<rect x="203.35" y="547.25" width="24.54" height="21.47" fill="#472a7a"/>
<rect x="227.29" y="547.25" width="24.54" height="21.47" fill="#21918c"/>
<rect x="251.23" y="547.25" width="24.54" height="21.47" fill="#2fb47c"/>
<rect x="275.17" y="547.25" width="24.54" height="21.47" fill="#2a788e"/>
<rect x="299.11" y="547.25" width="24.54" height="21.47" fill="#21918c"/>
<rect x="323.04" y="547.25" width="24.54" height="21.47" fill="#22a884"/>
<rect x="346.98" y="547.25" width="24.54" height="21.47" fill="#22a884"/>
<rect x="370.92" y="547.25" width="24.54" height="21.47" fill="#1e9c89"/>
<rect x="394.86" y="547.25" width="24.54" height="21.47" fill="#d5e21a"/>
<rect x="418.80" y="547.25" width="24.54" height="21.47" fill="#1e9c89"/>
<rect x="442.74" y="547.25" width="24.54" height="21.47" fill="#1e9c89"/>
<rect x="466.67" y="547.25" width="24.54" height="21.47" fill="#25848e"/>
<rect x="490.61" y="547.25" width="24.54" height="21.47" fill="#22a884"/>
<rect x="514.55" y="547.25" width="24.54" height="21.47" fill="#2a788e"/>
<rect x="538.49" y="547.25" width="24.54" height="21.47" fill="#3f4889"/>
<rect x="562.43" y="547.25" width="24.54" height="21.47" fill="#375b8d"/>
<rect x="586.36" y="547.25" width="24.54" height="21.47" fill="#3f4889"/>
<rect x="610.30" y="547.25" width="24.54" height="21.47" fill="#3f4889"/>
<rect x="634.24" y="547.25" width="24.54" height="21.47" fill="#481d6f"/>
<rect x="658.18" y="547.25" width="24.54" height="21.47" fill="#481d6f"/>
<rect x="682.12" y="547.25" width="24.54" height="21.47" fill="#463480"/>
<rect x="706.06" y="547.25" width="24.54" height="21.47" fill="#440154"/>
<rect x="729.99" y="547.25" width="24.54" height="21.47" fill="#471365"/>
<rect x="753.93" y="547.25" width="24.54" height="21.47" fill="#471365"/>
<rect x="777.87" y="547.25" width="24.54" height="21.47" fill="#46085c"/>
<rect x="801.81" y="547.25" width="24.54" height="21.47" fill="#471365"/>
<rect x="825.75" y="547.25" width="24.54" height="21.47" fill="#472a7a"/>
<rect x="849.69" y="547.25" width="24.54" height="21.47" fill="#481d6f"/>
<rect x="873.62" y="547.25" width="24.54" height="21.47" fill="#471365"/>
<rect x="897.56" y="547.25" width="24.54" height="21.47" fill="#46085c"/>
<rect x="107.60" y="568.12" width="24.54" height="21.47" fill="#2a788e"/>
<rect x="131.54" y="568.12" width="24.54" height="21.47" fill="#472a7a"/>
<rect x="155.48" y="568.12" width="24.54" height="21.47" fill="#482475"/>
<rect x="179.41" y="568.12" width="24.54" height="21.47" fill="#25848e"/>
<rect x="203.35" y="568.12" width="24.54" height="21.47" fill="#375b8d"/>
<rect x="227.29" y="568.12" width="24.54" height="21.47" fill="#375b8d"/>
<rect x="251.23" y="568.12" width="24.54" height="21.47" fill="#25848e"/>
<rect x="275.17" y="568.12" width="24.54" height="21.47" fill="#2f6c8e"/>
<rect x="299.11" y="568.12" width="24.54" height="21.47" fill="#44bf70"/>
<rect x="323.04" y="568.12" width="24.54" height="21.47" fill="#2fb47c"/>
<rect x="346.98" y="568.12" width="24.54" height="21.47" fill="#7ad151"/>
<rect x="370.92" y="568.12" width="24.54" height="21.47" fill="#21918c"/>
<rect x="394.86" y="568.12" width="24.54" height="21.47" fill="#7ad151"/>
<rect x="418.80" y="568.12" width="24.54" height="21.47" fill="#44bf70"/>
<rect x="442.74" y="568.12" width="24.54" height="21.47" fill="#2fb47c"/>
<rect x="466.67" y="568.12" width="24.54" height="21.47" fill="#21918c"/>
<rect x="490.61" y="568.12" width="24.54" height="21.47" fill="#1e9c89"/>
<rect x="514.55" y="568.12" width="24.54" height="21.47" fill="#2a788e"/>
<rect x="538.49" y="568.12" width="24.54" height="21.47" fill="#2a788e"/>
<rect x="562.43" y="568.12" width="24.54" height="21.47" fill="#463480"/>
<rect x="586.36" y="568.12" width="24.54" height="21.47" fill="#481d6f"/>
<rect x="610.30" y="568.12" width="24.54" height="21.47" fill="#375b8d"/>
<rect x="634.24" y="568.12" width="24.54" height="21.47" fill="#481d6f"/>
<rect x="658.18" y="568.12" width="24.54" height="21.47" fill="#481d6f"/>
<rect x="682.12" y="568.12" width="24.54" height="21.47" fill="#463480"/>
<rect x="706.06" y="568.12" width="24.54" height="21.47" fill="#481a6c"/>
<rect x="729.99" y="568.12" width="24.54" height="21.47" fill="#46085c"/>
<rect x="753.93" y="568.12" width="24.54" height="21.47" fill="#471365"/>
<rect x="777.87" y="568.12" width="24.54" height="21.47" fill="#481a6c"/>
<rect x="801.81" y="568.12" width="24.54" height="21.47" fill="#471365"/>
<rect x="825.75" y="568.12" width="24.54" height="21.47" fill="#46085c"/>
<rect x="849.69" y="568.12" width="24.54" height="21.47" fill="#46085c"/>
<rect x="873.62" y="568.12" width="24.54" height="21.47" fill="#424086"/>
<rect x="897.56" y="568.12" width="24.54" height="21.47" fill="#471365"/>
<rect x="107.60" y="588.99" width="24.54" height="21.47" fill="#375b8d"/>
<rect x="131.54" y="588.99" width="24.54" height="21.47" fill="#2f6c8e"/>
<rect x="155.48" y="588.99" width="24.54" height="21.47" fill="#375b8d"/>
<rect x="179.41" y="588.99" width="24.54" height="21.47" fill="#463480"/>
<rect x="203.35" y="588.99" width="24.54" height="21.47" fill="#44bf70"/>
<rect x="227.29" y="588.99" width="24.54" height="21.47" fill="#21918c"/>
<rect x="251.23" y="588.99" width="24.54" height="21.47" fill="#2fb47c"/>
<rect x="275.17" y="588.99" width="24.54" height="21.47" fill="#2f6c8e"/>
<rect x="299.11" y="588.99" width="24.54" height="21.47" fill="#2a788e"/>
<rect x="323.04" y="588.99" width="24.54" height="21.47" fill="#1e9c89"/>
<rect x="346.98" y="588.99" width="24.54" height="21.47" fill="#7ad151"/>
<rect x="370.92" y="588.99" width="24.54" height="21.47" fill="#2fb47c"/>
<rect x="394.86" y="588.99" width="24.54" height="21.47" fill="#5ec962"/>
<rect x="418.80" y="588.99" width="24.54" height="21.47" fill="#25848e"/>
<rect x="442.74" y="588.99" width="24.54" height="21.47" fill="#2a788e"/>
<rect x="466.67" y="588.99" width="24.54" height="21.47" fill="#2a788e"/>
<rect x="490.61" y="588.99" width="24.54" height="21.47" fill="#25848e"/>
<rect x="514.55" y="588.99" width="24.54" height="21.47" fill="#482475"/>
<rect x="538.49" y="588.99" width="24.54" height="21.47" fill="#375b8d"/>
<rect x="562.43" y="588.99" width="24.54" height="21.47" fill="#463480"/>
<rect x="586.36" y="588.99" width="24.54" height="21.47" fill="#482475"/>
<rect x="610.30" y="588.99" width="24.54" height="21.47" fill="#481d6f"/>
<rect x="634.24" y="588.99" width="24.54" height="21.47" fill="#481d6f"/>
<rect x="658.18" y="588.99" width="24.54" height="21.47" fill="#471365"/>
<rect x="682.12" y="588.99" width="24.54" height="21.47" fill="#450457"/>
<rect x="706.06" y="588.99" width="24.54" height="21.47" fill="#3f4889"/>
<rect x="729.99" y="588.99" width="24.54" height="21.47" fill="#471365"/>
<rect x="753.93" y="588.99" width="24.54" height="21.47" fill="#46085c"/>
<rect x="777.87" y="588.99" width="24.54" height="21.47" fill="#471365"/>
<rect x="801.81" y="588.99" width="24.54" height="21.47" fill="#471365"/>
<rect x="825.75" y="588.99" width="24.54" height="21.47" fill="#460b5e"/>
<rect x="849.69" y="588.99" width="24.54" height="21.47" fill="#481a6c"/>
<rect x="873.62" y="588.99" width="24.54" height="21.47" fill="#481a6c"/>
<rect x="897.56" y="588.99" width="24.54" height="21.47" fill="#471365"/>
<rect x="107.60" y="609.85" width="24.54" height="21.47" fill="#3f4889"/>
<rect x="131.54" y="609.85" width="24.54" height="21.47" fill="#472a7a"/>
<rect x="155.48" y="609.85" width="24.54" height="21.47" fill="#472a7a"/>
<rect x="179.41" y="609.85" width="24.54" height="21.47" fill="#2f6c8e"/>
<rect x="203.35" y="609.85" width="24.54" height="21.47" fill="#375b8d"/>
<rect x="227.29" y="609.85" width="24.54" height="21.47" fill="#463480"/>
<rect x="251.23" y="609.85" width="24.54" height="21.47" fill="#375b8d"/>
<rect x="275.17" y="609.85" width="24.54" height="21.47" fill="#5ec962"/>
<rect x="299.11" y="609.85" width="24.54" height="21.47" fill="#25848e"/>
<rect x="323.04" y="609.85" width="24.54" height="21.47" fill="#21918c"/>
<rect x="346.98" y="609.85" width="24.54" height="21.47" fill="#44bf70"/>
<rect x="370.92" y="609.85" width="24.54" height="21.47" fill="#21918c"/>
<rect x="394.86" y="609.85" width="24.54" height="21.47" fill="#2f6c8e"/>
<rect x="418.80" y="609.85" width="24.54" height="21.47" fill="#5ec962"/>
<rect x="442.74" y="609.85" width="24.54" height="21.47" fill="#2f6c8e"/>
<rect x="466.67" y="609.85" width="24.54" height="21.47" fill="#3f4889"/>
<rect x="490.61" y="609.85" width="24.54" height="21.47" fill="#375b8d"/>
<rect x="514.55" y="609.85" width="24.54" height="21.47" fill="#375b8d"/>
<rect x="538.49" y="609.85" width="24.54" height="21.47" fill="#471365"/>
<rect x="562.43" y="609.85" width="24.54" height="21.47" fill="#481a6c"/>
<rect x="586.36" y="609.85" width="24.54" height="21.47" fill="#481d6f"/>
<rect x="610.30" y="609.85" width="24.54" height="21.47" fill="#463480"/>
<rect x="634.24" y="609.85" width="24.54" height="21.47" fill="#460b5e"/>
<rect x="658.18" y="609.85" width="24.54" height="21.47" fill="#481d6f"/>
<rect x="682.12" y="609.85" width="24.54" height="21.47" fill="#471365"/>
<rect x="706.06" y="609.85" width="24.54" height="21.47" fill="#471365"/>
<rect x="729.99" y="609.85" width="24.54" height="21.47" fill="#471365"/>
<rect x="753.93" y="609.85" width="24.54" height="21.47" fill="#463480"/>
<rect x="777.87" y="609.85" width="24.54" height="21.47" fill="#471365"/>
<rect x="801.81" y="609.85" width="24.54" height="21.47" fill="#471365"/>
<rect x="825.75" y="609.85" width="24.54" height="21.47" fill="#460b5e"/>
<rect x="849.69" y="609.85" width="24.54" height="21.47" fill="#471365"/>
<rect x="873.62" y="609.85" width="24.54" height="21.47" fill="#471365"/>
<rect x="897.56" y="609.85" width="24.54" height="21.47" fill="#481a6c"/>
<rect x="107.60" y="630.72" width="24.54" height="21.47" fill="#482475"/>
<rect x="131.54" y="630.72" width="24.54" height="21.47" fill="#375b8d"/>
<rect x="155.48" y="630.72" width="24.54" height="21.47" fill="#3f4889"/>
<rect x="179.41" y="630.72" width="24.54" height="21.47" fill="#21918c"/>
<rect x="203.35" y="630.72" width="24.54" height="21.47" fill="#1e9c89"/>
<rect x="227.29" y="630.72" width="24.54" height="21.47" fill="#25848e"/>
<rect x="251.23" y="630.72" width="24.54" height="21.47" fill="#25848e"/>
<rect x="275.17" y="630.72" width="24.54" height="21.47" fill="#5ec962"/>
<rect x="299.11" y="630.72" width="24.54" height="21.47" fill="#25848e"/>
<rect x="323.04" y="630.72" width="24.54" height="21.47" fill="#5ec962"/>
<rect x="346.98" y="630.72" width="24.54" height="21.47" fill="#1e9c89"/>
<rect x="370.92" y="630.72" width="24.54" height="21.47" fill="#44bf70"/>
<rect x="394.86" y="630.72" width="24.54" height="21.47" fill="#44bf70"/>
<rect x="418.80" y="630.72" width="24.54" height="21.47" fill="#375b8d"/>
<rect x="442.74" y="630.72" width="24.54" height="21.47" fill="#25848e"/>
<rect x="466.67" y="630.72" width="24.54" height="21.47" fill="#2fb47c"/>
<rect x="490.61" y="630.72" width="24.54" height="21.47" fill="#3f4889"/>
<rect x="514.55" y="630.72" width="24.54" height="21.47" fill="#3f4889"/>
<rect x="538.49" y="630.72" width="24.54" height="21.47" fill="#375b8d"/>
<rect x="562.43" y="630.72" width="24.54" height="21.47" fill="#2f6c8e"/>
<rect x="586.36" y="630.72" width="24.54" height="21.47" fill="#471365"/>
<rect x="610.30" y="630.72" width="24.54" height="21.47" fill="#471365"/>
<rect x="634.24" y="630.72" width="24.54" height="21.47" fill="#471365"/>
<rect x="658.18" y="630.72" width="24.54" height="21.47" fill="#471365"/>
<rect x="682.12" y="630.72" width="24.54" height="21.47" fill="#460b5e"/>
<rect x="706.06" y="630.72" width="24.54" height="21.47" fill="#481a6c"/>
<rect x="729.99" y="630.72" width="24.54" height="21.47" fill="#471365"/>
<rect x="753.93" y="630.72" width="24.54" height="21.47" fill="#471365"/>
<rect x="777.87" y="630.72" width="24.54" height="21.47" fill="#46085c"/>
<rect x="801.81" y="630.72" width="24.54" height="21.47" fill="#46085c"/>
<rect x="825.75" y="630.72" width="24.54" height="21.47" fill="#472a7a"/>
<rect x="849.69" y="630.72" width="24.54" height="21.47" fill="#471365"/>
<rect x="873.62" y="630.72" width="24.54" height="21.47" fill="#46085c"/>
<rect x="897.56" y="630.72" width="24.54" height="21.47" fill="#482475"/>
<rect x="107.60" y="651.59" width="24.54" height="21.47" fill="#2f6c8e"/>
<rect x="131.54" y="651.59" width="24.54" height="21.47" fill="#375b8d"/>
<rect x="155.48" y="651.59" width="24.54" height="21.47" fill="#22a884"/>
<rect x="179.41" y="651.59" width="24.54" height="21.47" fill="#375b8d"/>
<rect x="203.35" y="651.59" width="24.54" height="21.47" fill="#2a788e"/>
<rect x="227.29" y="651.59" width="24.54" height="21.47" fill="#1e9c89"/>
<rect x="251.23" y="651.59" width="24.54" height="21.47" fill="#1e9c89"/>
<rect x="275.17" y="651.59" width="24.54" height="21.47" fill="#21918c"/>
<rect x="299.11" y="651.59" width="24.54" height="21.47" fill="#7ad151"/>
<rect x="323.04" y="651.59" width="24.54" height="21.47" fill="#d5e21a"/>
<rect x="346.98" y="651.59" width="24.54" height="21.47" fill="#2fb47c"/>
<rect x="370.92" y="651.59" width="24.54" height="21.47" fill="#22a884"/>
<rect x="394.86" y="651.59" width="24.54" height="21.47" fill="#1e9c89"/>
<rect x="418.80" y="651.59" width="24.54" height="21.47" fill="#2f6c8e"/>
<rect x="442.74" y="651.59" width="24.54" height="21.47" fill="#25848e"/>
<rect x="466.67" y="651.59" width="24.54" height="21.47" fill="#25848e"/>
<rect x="490.61" y="651.59" width="24.54" height="21.47" fill="#2f6c8e"/>
<rect x="514.55" y="651.59" width="24.54" height="21.47" fill="#463480"/>
<rect x="538.49" y="651.59" width="24.54" height="21.47" fill="#375b8d"/>
<rect x="562.43" y="651.59" width="24.54" height="21.47" fill="#482475"/>
<rect x="586.36" y="651.59" width="24.54" height="21.47" fill="#463480"/>
<rect x="610.30" y="651.59" width="24.54" height="21.47" fill="#472a7a"/>
<rect x="634.24" y="651.59" width="24.54" height="21.47" fill="#482475"/>
<rect x="658.18" y="651.59" width="24.54" height="21.47" fill="#471365"/>
<rect x="682.12" y="651.59" width="24.54" height="21.47" fill="#471365"/>
<rect x="706.06" y="651.59" width="24.54" height="21.47" fill="#482475"/>
<rect x="729.99" y="651.59" width="24.54" height="21.47" fill="#482475"/>
<rect x="753.93" y="651.59" width="24.54" height="21.47" fill="#471365"/>
<rect x="777.87" y="651.59" width="24.54" height="21.47" fill="#471365"/>
<rect x="801.81" y="651.59" width="24.54" height="21.47" fill="#482475"/>
<rect x="825.75" y="651.59" width="24.54" height="21.47" fill="#46085c"/>
<rect x="849.69" y="651.59" width="24.54" height="21.47" fill="#481a6c"/>
<rect x="873.62" y="651.59" width="24.54" height="21.47" fill="#471365"/>
<rect x="897.56" y="651.59" width="24.54" height="21.47" fill="#471365"/>
<rect x="107.60" y="672.46" width="24.54" height="21.47" fill="#25848e"/>
<rect x="131.54" y="672.46" width="24.54" height="21.47" fill="#25848e"/>
<rect x="155.48" y="672.46" width="24.54" height="21.47" fill="#2a788e"/>
<rect x="179.41" y="672.46" width="24.54" height="21.47" fill="#2a788e"/>
<rect x="203.35" y="672.46" width="24.54" height="21.47" fill="#44bf70"/>
<rect x="227.29" y="672.46" width="24.54" height="21.47" fill="#7ad151"/>
<rect x="251.23" y="672.46" width="24.54" height="21.47" fill="#25848e"/>
<rect x="275.17" y="672.46" width="24.54" height="21.47" fill="#2a788e"/>
<rect x="299.11" y="672.46" width="24.54" height="21.47" fill="#25848e"/>
<rect x="323.04" y="672.46" width="24.54" height="21.47" fill="#7ad151"/>
<rect x="346.98" y="672.46" width="24.54" height="21.47" fill="#d5e21a"/>
<rect x="370.92" y="672.46" width="24.54" height="21.47" fill="#2a788e"/>
<rect x="394.86" y="672.46" width="24.54" height="21.47" fill="#2a788e"/>
<rect x="418.80" y="672.46" width="24.54" height="21.47" fill="#25848e"/>
<rect x="442.74" y="672.46" width="24.54" height="21.47" fill="#2f6c8e"/>
<rect x="466.67" y="672.46" width="24.54" height="21.47" fill="#3f4889"/>
<rect x="490.61" y="672.46" width="24.54" height="21.47" fill="#2f6c8e"/>
<rect x="514.55" y="672.46" width="24.54" height="21.47" fill="#463480"/>
<rect x="538.49" y="672.46" width="24.54" height="21.47" fill="#3f4889"/>
<rect x="562.43" y="672.46" width="24.54" height="21.47" fill="#463480"/>
<rect x="586.36" y="672.46" width="24.54" height="21.47" fill="#471365"/>
<rect x="610.30" y="672.46" width="24.54" height="21.47" fill="#481d6f"/>
<rect x="634.24" y="672.46" width="24.54" height="21.47" fill="#482475"/>
<rect x="658.18" y="672.46" width="24.54" height="21.47" fill="#471365"/>
<rect x="682.12" y="672.46" width="24.54" height="21.47" fill="#471365"/>
<rect x="706.06" y="672.46" width="24.54" height="21.47" fill="#471365"/>
<rect x="729.99" y="672.46" width="24.54" height="21.47" fill="#471365"/>
<rect x="753.93" y="672.46" width="24.54" height="21.47" fill="#471365"/>
<rect x="777.87" y="672.46" width="24.54" height="21.47" fill="#482475"/>
<rect x="801.81" y="672.46" width="24.54" height="21.47" fill="#482475"/>
<rect x="825.75" y="672.46" width="24.54" height="21.47" fill="#471365"/>
<rect x="849.69" y="672.46" width="24.54" height="21.47" fill="#482475"/>
<rect x="873.62" y="672.46" width="24.54" height="21.47" fill="#481a6c"/>
<rect x="897.56" y="672.46" width="24.54" height="21.47" fill="#460b5e"/>
<rect x="107.60" y="693.33" width="24.54" height="21.47" fill="#2a788e"/>
<rect x="131.54" y="693.33" width="24.54" height="21.47" fill="#2f6c8e"/>
<rect x="155.48" y="693.33" width="24.54" height="21.47" fill="#21918c"/>
<rect x="179.41" y="693.33" width="24.54" height="21.47" fill="#25848e"/>
<rect x="203.35" y="693.33" width="24.54" height="21.47" fill="#22a884"/>
<rect x="227.29" y="693.33" width="24.54" height="21.47" fill="#44bf70"/>
<rect x="251.23" y="693.33" width="24.54" height="21.47" fill="#d5e21a"/>
<rect x="275.17" y="693.33" width="24.54" height="21.47" fill="#1e9c89"/>
<rect x="299.11" y="693.33" width="24.54" height="21.47" fill="#44bf70"/>
<rect x="323.04" y="693.33" width="24.54" height="21.47" fill="#44bf70"/>
<rect x="346.98" y="693.33" width="24.54" height="21.47" fill="#2a788e"/>
<rect x="370.92" y="693.33" width="24.54" height="21.47" fill="#22a884"/>
<rect x="394.86" y="693.33" width="24.54" height="21.47" fill="#21918c"/>
<rect x="418.80" y="693.33" width="24.54" height="21.47" fill="#2f6c8e"/>
<rect x="442.74" y="693.33" width="24.54" height="21.47" fill="#2a788e"/>
<rect x="466.67" y="693.33" width="24.54" height="21.47" fill="#375b8d"/>
<rect x="490.61" y="693.33" width="24.54" height="21.47" fill="#3f4889"/>
<rect x="514.55" y="693.33" width="24.54" height="21.47" fill="#482475"/>
<rect x="538.49" y="693.33" width="24.54" height="21.47" fill="#463480"/>
<rect x="562.43" y="693.33" width="24.54" height="21.47" fill="#463480"/>
<rect x="586.36" y="693.33" width="24.54" height="21.47" fill="#46085c"/>
<rect x="610.30" y="693.33" width="24.54" height="21.47" fill="#463480"/>
<rect x="634.24" y="693.33" width="24.54" height="21.47" fill="#471365"/>
<rect x="658.18" y="693.33" width="24.54" height="21.47" fill="#471365"/>
<rect x="682.12" y="693.33" width="24.54" height="21.47" fill="#471365"/>
<rect x="706.06" y="693.33" width="24.54" height="21.47" fill="#3f4889"/>
<rect x="729.99" y="693.33" width="24.54" height="21.47" fill="#482475"/>
<rect x="753.93" y="693.33" width="24.54" height="21.47" fill="#482475"/>
<rect x="777.87" y="693.33" width="24.54" height="21.47" fill="#482475"/>
<rect x="801.81" y="693.33" width="24.54" height="21.47" fill="#463480"/>
<rect x="825.75" y="693.33" width="24.54" height="21.47" fill="#471365"/>
<rect x="849.69" y="693.33" width="24.54" height="21.47" fill="#471365"/>
<rect x="873.62" y="693.33" width="24.54" height="21.47" fill="#471365"/>
<rect x="897.56" y="693.33" width="24.54" height="21.47" fill="#46085c"/>
<rect x="107.60" y="714.19" width="24.54" height="21.47" fill="#2a788e"/>
<rect x="131.54" y="714.19" width="24.54" height="21.47" fill="#2a788e"/>
<rect x="155.48" y="714.19" width="24.54" height="21.47" fill="#44bf70"/>
<rect x="179.41" y="714.19" width="24.54" height="21.47" fill="#22a884"/>
<rect x="203.35" y="714.19" width="24.54" height="21.47" fill="#1e9c89"/>
<rect x="227.29" y="714.19" width="24.54" height="21.47" fill="#2f6c8e"/>
<rect x="251.23" y="714.19" width="24.54" height="21.47" fill="#2fb47c"/>
<rect x="275.17" y="714.19" width="24.54" height="21.47" fill="#d5e21a"/>
<rect x="299.11" y="714.19" width="24.54" height="21.47" fill="#22a884"/>
<rect x="323.04" y="714.19" width="24.54" height="21.47" fill="#1e9c89"/>
<rect x="346.98" y="714.19" width="24.54" height="21.47" fill="#22a884"/>
<rect x="370.92" y="714.19" width="24.54" height="21.47" fill="#25848e"/>
<rect x="394.86" y="714.19" width="24.54" height="21.47" fill="#1e9c89"/>
<rect x="418.80" y="714.19" width="24.54" height="21.47" fill="#375b8d"/>
<rect x="442.74" y="714.19" width="24.54" height="21.47" fill="#21918c"/>
<rect x="466.67" y="714.19" width="24.54" height="21.47" fill="#482475"/>
<rect x="490.61" y="714.19" width="24.54" height="21.47" fill="#375b8d"/>
<rect x="514.55" y="714.19" width="24.54" height="21.47" fill="#463480"/>
<rect x="538.49" y="714.19" width="24.54" height="21.47" fill="#482475"/>
<rect x="562.43" y="714.19" width="24.54" height="21.47" fill="#3f4889"/>
<rect x="586.36" y="714.19" width="24.54" height="21.47" fill="#463480"/>
<rect x="610.30" y="714.19" width="24.54" height="21.47" fill="#2f6c8e"/>
<rect x="634.24" y="714.19" width="24.54" height="21.47" fill="#482475"/>
<rect x="658.18" y="714.19" width="24.54" height="21.47" fill="#463480"/>
<rect x="682.12" y="714.19" width="24.54" height="21.47" fill="#471365"/>
<rect x="706.06" y="714.19" width="24.54" height="21.47" fill="#481a6c"/>
<rect x="729.99" y="714.19" width="24.54" height="21.47" fill="#481a6c"/>
<rect x="753.93" y="714.19" width="24.54" height="21.47" fill="#482475"/>
<rect x="777.87" y="714.19" width="24.54" height="21.47" fill="#46085c"/>
<rect x="801.81" y="714.19" width="24.54" height="21.47" fill="#46085c"/>
<rect x="825.75" y="714.19" width="24.54" height="21.47" fill="#481a6c"/>
<rect x="849.69" y="714.19" width="24.54" height="21.47" fill="#471365"/>
<rect x="873.62" y="714.19" width="24.54" height="21.47" fill="#471365"/>
<rect x="897.56" y="714.19" width="24.54" height="21.47" fill="#471365"/>
<rect x="107.60" y="735.06" width="24.54" height="21.47" fill="#2f6c8e"/>
<rect x="131.54" y="735.06" width="24.54" height="21.47" fill="#2f6c8e"/>
<rect x="155.48" y="735.06" width="24.54" height="21.47" fill="#21918c"/>
<rect x="179.41" y="735.06" width="24.54" height="21.47" fill="#5ec962"/>
<rect x="203.35" y="735.06" width="24.54" height="21.47" fill="#25848e"/>
<rect x="227.29" y="735.06" width="24.54" height="21.47" fill="#7ad151"/>
<rect x="251.23" y="735.06" width="24.54" height="21.47" fill="#1e9c89"/>
<rect x="275.17" y="735.06" width="24.54" height="21.47" fill="#25848e"/>
<rect x="299.11" y="735.06" width="24.54" height="21.47" fill="#1e9c89"/>
<rect x="323.04" y="735.06" width="24.54" height="21.47" fill="#21918c"/>
<rect x="346.98" y="735.06" width="24.54" height="21.47" fill="#1e9c89"/>
<rect x="370.92" y="735.06" width="24.54" height="21.47" fill="#2a788e"/>
<rect x="394.86" y="735.06" width="24.54" height="21.47" fill="#3f4889"/>
<rect x="418.80" y="735.06" width="24.54" height="21.47" fill="#3f4889"/>
<rect x="442.74" y="735.06" width="24.54" height="21.47" fill="#1e9c89"/>
<rect x="466.67" y="735.06" width="24.54" height="21.47" fill="#1e9c89"/>
<rect x="490.61" y="735.06" width="24.54" height="21.47" fill="#3f4889"/>
<rect x="514.55" y="735.06" width="24.54" height="21.47" fill="#3f4889"/>
<rect x="538.49" y="735.06" width="24.54" height="21.47" fill="#463480"/>
<rect x="562.43" y="735.06" width="24.54" height="21.47" fill="#440154"/>
<rect x="586.36" y="735.06" width="24.54" height="21.47" fill="#471365"/>
<rect x="610.30" y="735.06" width="24.54" height="21.47" fill="#472a7a"/>
<rect x="634.24" y="735.06" width="24.54" height="21.47" fill="#3f4889"/>
<rect x="658.18" y="735.06" width="24.54" height="21.47" fill="#481d6f"/>
<rect x="682.12" y="735.06" width="24.54" height="21.47" fill="#450457"/>
<rect x="706.06" y="735.06" width="24.54" height="21.47" fill="#481d6f"/>
<rect x="729.99" y="735.06" width="24.54" height="21.47" fill="#450457"/>
<rect x="753.93" y="735.06" width="24.54" height="21.47" fill="#471365"/>
<rect x="777.87" y="735.06" width="24.54" height="21.47" fill="#471365"/>
<rect x="801.81" y="735.06" width="24.54" height="21.47" fill="#471365"/>
<rect x="825.75" y="735.06" width="24.54" height="21.47" fill="#424086"/>
<rect x="849.69" y="735.06" width="24.54" height="21.47" fill="#481d6f"/>
<rect x="873.62" y="735.06" width="24.54" height="21.47" fill="#471365"/>
<rect x="897.56" y="735.06" width="24.54" height="21.47" fill="#481d6f"/>
<rect x="107.60" y="755.93" width="24.54" height="21.47" fill="#2a788e"/>
<rect x="131.54" y="755.93" width="24.54" height="21.47" fill="#2a788e"/>
<rect x="155.48" y="755.93" width="24.54" height="21.47" fill="#1e9c89"/>
<rect x="179.41" y="755.93" width="24.54" height="21.47" fill="#25848e"/>
<rect x="203.35" y="755.93" width="24.54" height="21.47" fill="#44bf70"/>
<rect x="227.29" y="755.93" width="24.54" height="21.47" fill="#1e9c89"/>
<rect x="251.23" y="755.93" width="24.54" height="21.47" fill="#44bf70"/>
<rect x="275.17" y="755.93" width="24.54" height="21.47" fill="#fde725"/>
<rect x="299.11" y="755.93" width="24.54" height="21.47" fill="#d5e21a"/>
<rect x="323.04" y="755.93" width="24.54" height="21.47" fill="#375b8d"/>
<rect x="346.98" y="755.93" width="24.54" height="21.47" fill="#25848e"/>
<rect x="370.92" y="755.93" width="24.54" height="21.47" fill="#5ec962"/>
<rect x="394.86" y="755.93" width="24.54" height="21.47" fill="#375b8d"/>
<rect x="418.80" y="755.93" width="24.54" height="21.47" fill="#375b8d"/>
<rect x="442.74" y="755.93" width="24.54" height="21.47" fill="#25848e"/>
<rect x="466.67" y="755.93" width="24.54" height="21.47" fill="#3f4889"/>
<rect x="490.61" y="755.93" width="24.54" height="21.47" fill="#375b8d"/>
<rect x="514.55" y="755.93" width="24.54" height="21.47" fill="#375b8d"/>
<rect x="538.49" y="755.93" width="24.54" height="21.47" fill="#463480"/>
<rect x="562.43" y="755.93" width="24.54" height="21.47" fill="#482475"/>
<rect x="586.36" y="755.93" width="24.54" height="21.47" fill="#481a6c"/>
<rect x="610.30" y="755.93" width="24.54" height="21.47" fill="#472a7a"/>
<rect x="634.24" y="755.93" width="24.54" height="21.47" fill="#472a7a"/>
<rect x="658.18" y="755.93" width="24.54" height="21.47" fill="#463480"/>
<rect x="682.12" y="755.93" width="24.54" height="21.47" fill="#472a7a"/>
<rect x="706.06" y="755.93" width="24.54" height="21.47" fill="#460b5e"/>
<rect x="729.99" y="755.93" width="24.54" height="21.47" fill="#460b5e"/>
<rect x="753.93" y="755.93" width="24.54" height="21.47" fill="#463480"/>
<rect x="777.87" y="755.93" width="24.54" height="21.47" fill="#450457"/>
<rect x="801.81" y="755.93" width="24.54" height="21.47" fill="#463480"/>
<rect x="825.75" y="755.93" width="24.54" height="21.47" fill="#440154"/>
<rect x="849.69" y="755.93" width="24.54" height="21.47" fill="#481d6f"/>
<rect x="873.62" y="755.93" width="24.54" height="21.47" fill="#471365"/>
<rect x="897.56" y="755.93" width="24.54" height="21.47" fill="#481d6f"/>
<rect x="107.60" y="776.80" width="24.54" height="21.47" fill="#22a884"/>
<rect x="131.54" y="776.80" width="24.54" height="21.47" fill="#375b8d"/>
<rect x="155.48" y="776.80" width="24.54" height="21.47" fill="#7ad151"/>
<rect x="179.41" y="776.80" width="24.54" height="21.47" fill="#d5e21a"/>
<rect x="203.35" y="776.80" width="24.54" height="21.47" fill="#5ec962"/>
<rect x="227.29" y="776.80" width="24.54" height="21.47" fill="#7ad151"/>
<rect x="251.23" y="776.80" width="24.54" height="21.47" fill="#2a788e"/>
<rect x="275.17" y="776.80" width="24.54" height="21.47" fill="#fde725"/>
<rect x="299.11" y="776.80" width="24.54" height="21.47" fill="#d5e21a"/>
<rect x="323.04" y="776.80" width="24.54" height="21.47" fill="#21918c"/>
<rect x="346.98" y="776.80" width="24.54" height="21.47" fill="#22a884"/>
<rect x="370.92" y="776.80" width="24.54" height="21.47" fill="#21918c"/>
<rect x="394.86" y="776.80" width="24.54" height="21.47" fill="#375b8d"/>
<rect x="418.80" y="776.80" width="24.54" height="21.47" fill="#375b8d"/>
<rect x="442.74" y="776.80" width="24.54" height="21.47" fill="#2f6c8e"/>
<rect x="466.67" y="776.80" width="24.54" height="21.47" fill="#3f4889"/>
<rect x="490.61" y="776.80" width="24.54" height="21.47" fill="#471365"/>
<rect x="514.55" y="776.80" width="24.54" height="21.47" fill="#375b8d"/>
<rect x="538.49" y="776.80" width="24.54" height="21.47" fill="#460b5e"/>
<rect x="562.43" y="776.80" width="24.54" height="21.47" fill="#463480"/>
<rect x="586.36" y="776.80" width="24.54" height="21.47" fill="#481a6c"/>
<rect x="610.30" y="776.80" width="24.54" height="21.47" fill="#482475"/>
<rect x="634.24" y="776.80" width="24.54" height="21.47" fill="#481a6c"/>
<rect x="658.18" y="776.80" width="24.54" height="21.47" fill="#463480"/>
<rect x="682.12" y="776.80" width="24.54" height="21.47" fill="#463480"/>
<rect x="706.06" y="776.80" width="24.54" height="21.47" fill="#450457"/>
<rect x="729.99" y="776.80" width="24.54" height="21.47" fill="#482475"/>
<rect x="753.93" y="776.80" width="24.54" height="21.47" fill="#46085c"/>
<rect x="777.87" y="776.80" width="24.54" height="21.47" fill="#482475"/>
<rect x="801.81" y="776.80" width="24.54" height="21.47" fill="#482475"/>
<rect x="825.75" y="776.80" width="24.54" height="21.47" fill="#460b5e"/>
<rect x="849.69" y="776.80" width="24.54" height="21.47" fill="#471365"/>
<rect x="873.62" y="776.80" width="24.54" height="21.47" fill="#481a6c"/>
<rect x="897.56" y="776.80" width="24.54" height="21.47" fill="#481d6f"/>
<rect x="107.60" y="797.66" width="24.54" height="21.47" fill="#2f6c8e"/>
<rect x="131.54" y="797.66" width="24.54" height="21.47" fill="#1e9c89"/>
<rect x="155.48" y="797.66" width="24.54" height="21.47" fill="#22a884"/>
<rect x="179.41" y="797.66" width="24.54" height="21.47" fill="#25848e"/>
<rect x="203.35" y="797.66" width="24.54" height="21.47" fill="#44bf70"/>
<rect x="227.29" y="797.66" width="24.54" height="21.47" fill="#2fb47c"/>
<rect x="251.23" y="797.66" width="24.54" height="21.47" fill="#b8de29"/>
<rect x="275.17" y="797.66" width="24.54" height="21.47" fill="#7ad151"/>
<rect x="299.11" y="797.66" width="24.54" height="21.47" fill="#44bf70"/>
<rect x="323.04" y="797.66" width="24.54" height="21.47" fill="#22a884"/>
<rect x="346.98" y="797.66" width="24.54" height="21.47" fill="#2fb47c"/>
<rect x="370.92" y="797.66" width="24.54" height="21.47" fill="#25848e"/>
<rect x="394.86" y="797.66" width="24.54" height="21.47" fill="#21918c"/>
<rect x="418.80" y="797.66" width="24.54" height="21.47" fill="#3f4889"/>
<rect x="442.74" y="797.66" width="24.54" height="21.47" fill="#2a788e"/>
<rect x="466.67" y="797.66" width="24.54" height="21.47" fill="#2a788e"/>
<rect x="490.61" y="797.66" width="24.54" height="21.47" fill="#2a788e"/>
<rect x="514.55" y="797.66" width="24.54" height="21.47" fill="#463480"/>
<rect x="538.49" y="797.66" width="24.54" height="21.47" fill="#2f6c8e"/>
<rect x="562.43" y="797.66" width="24.54" height="21.47" fill="#471365"/>
<rect x="586.36" y="797.66" width="24.54" height="21.47" fill="#463480"/>
<rect x="610.30" y="797.66" width="24.54" height="21.47" fill="#482475"/>
<rect x="634.24" y="797.66" width="24.54" height="21.47" fill="#375b8d"/>
<rect x="658.18" y="797.66" width="24.54" height="21.47" fill="#471365"/>
<rect x="682.12" y="797.66" width="24.54" height="21.47" fill="#481a6c"/>
<rect x="706.06" y="797.66" width="24.54" height="21.47" fill="#472a7a"/>
<rect x="729.99" y="797.66" width="24.54" height="21.47" fill="#471365"/>
<rect x="753.93" y="797.66" width="24.54" height="21.47" fill="#471365"/>
<rect x="777.87" y="797.66" width="24.54" height="21.47" fill="#471365"/>
<rect x="801.81" y="797.66" width="24.54" height="21.47" fill="#46085c"/>
<rect x="825.75" y="797.66" width="24.54" height="21.47" fill="#471365"/>
<rect x="849.69" y="797.66" width="24.54" height="21.47" fill="#481d6f"/>
<rect x="873.62" y="797.66" width="24.54" height="21.47" fill="#46085c"/>
<rect x="897.56" y="797.66" width="24.54" height="21.47" fill="#482475"/>
<rect x="107.60" y="818.53" width="24.54" height="21.47" fill="#25848e"/>
<rect x="131.54" y="818.53" width="24.54" height="21.47" fill="#375b8d"/>
<rect x="155.48" y="818.53" width="24.54" height="21.47" fill="#1e9c89"/>
<rect x="179.41" y="818.53" width="24.54" height="21.47" fill="#21918c"/>
<rect x="203.35" y="818.53" width="24.54" height="21.47" fill="#22a884"/>
<rect x="227.29" y="818.53" width="24.54" height="21.47" fill="#7ad151"/>
<rect x="251.23" y="818.53" width="24.54" height="21.47" fill="#2a788e"/>
<rect x="275.17" y="818.53" width="24.54" height="21.47" fill="#2fb47c"/>
<rect x="299.11" y="818.53" width="24.54" height="21.47" fill="#22a884"/>
<rect x="323.04" y="818.53" width="24.54" height="21.47" fill="#2a788e"/>
<rect x="346.98" y="818.53" width="24.54" height="21.47" fill="#375b8d"/>
<rect x="370.92" y="818.53" width="24.54" height="21.47" fill="#375b8d"/>
<rect x="394.86" y="818.53" width="24.54" height="21.47" fill="#375b8d"/>
<rect x="418.80" y="818.53" width="24.54" height="21.47" fill="#2f6c8e"/>
<rect x="442.74" y="818.53" width="24.54" height="21.47" fill="#463480"/>
<rect x="466.67" y="818.53" width="24.54" height="21.47" fill="#463480"/>
<rect x="490.61" y="818.53" width="24.54" height="21.47" fill="#463480"/>
<rect x="514.55" y="818.53" width="24.54" height="21.47" fill="#481d6f"/>
<rect x="538.49" y="818.53" width="24.54" height="21.47" fill="#3f4889"/>
<rect x="562.43" y="818.53" width="24.54" height="21.47" fill="#463480"/>
<rect x="586.36" y="818.53" width="24.54" height="21.47" fill="#471365"/>
<rect x="610.30" y="818.53" width="24.54" height="21.47" fill="#481d6f"/>
<rect x="634.24" y="818.53" width="24.54" height="21.47" fill="#450457"/>
<rect x="658.18" y="818.53" width="24.54" height="21.47" fill="#481a6c"/>
<rect x="682.12" y="818.53" width="24.54" height="21.47" fill="#482475"/>
<rect x="706.06" y="818.53" width="24.54" height="21.47" fill="#481a6c"/>
<rect x="729.99" y="818.53" width="24.54" height="21.47" fill="#472a7a"/>
<rect x="753.93" y="818.53" width="24.54" height="21.47" fill="#46085c"/>
<rect x="777.87" y="818.53" width="24.54" height="21.47" fill="#481a6c"/>
<rect x="801.81" y="818.53" width="24.54" height="21.47" fill="#481d6f"/>
<rect x="825.75" y="818.53" width="24.54" height="21.47" fill="#481a6c"/>
<rect x="849.69" y="818.53" width="24.54" height="21.47" fill="#481d6f"/>
<rect x="873.62" y="818.53" width="24.54" height="21.47" fill="#481a6c"/>
<rect x="897.56" y="818.53" width="24.54" height="21.47" fill="#472a7a"/>
</g>
<g stroke="#fff" stroke-width="2.1" stroke-dasharray="2.09 3.45">
<line x1="191.52" y1="839.40" x2="191.52" y2="192.50"/>
<line x1="311.20" y1="839.40" x2="311.20" y2="192.50"/>
<line x1="430.88" y1="839.40" x2="430.88" y2="192.50"/>
<line x1="550.56" y1="839.40" x2="550.56" y2="192.50"/>
<line x1="670.24" y1="839.40" x2="670.24" y2="192.50"/>
<line x1="789.92" y1="839.40" x2="789.92" y2="192.50"/>
<line x1="909.60" y1="839.40" x2="909.60" y2="192.50"/>
<line x1="107.60" y1="779.71" x2="921.50" y2="779.71"/>
<line x1="107.60" y1="697.78" x2="921.50" y2="697.78"/>
<line x1="107.60" y1="615.85" x2="921.50" y2="615.85"/>
<line x1="107.60" y1="533.92" x2="921.50" y2="533.92"/>
<line x1="107.60" y1="451.99" x2="921.50" y2="451.99"/>
<line x1="107.60" y1="370.06" x2="921.50" y2="370.06"/>
<line x1="107.60" y1="288.13" x2="921.50" y2="288.13"/>
<line x1="107.60" y1="206.20" x2="921.50" y2="206.20"/>
</g>
<line x1="692.0" y1="203.1" x2="340.85" y2="828.9" stroke="#fff" stroke-width="3.6" stroke-dasharray="11.57 5.01"/>
<rect x="107.60" y="192.50" width="813.90" height="646.90" fill="none" stroke="#000" stroke-width="3.2"/>
<line x1="191.52" y1="839.40" x2="191.52" y2="853.6" stroke="#000" stroke-width="3.2"/>
<text x="166.50" y="889.60" font-size="29.50">−60</text>
<line x1="311.20" y1="839.40" x2="311.20" y2="853.6" stroke="#000" stroke-width="3.2"/>
<text x="286.18" y="889.60" font-size="29.50">−50</text>
<line x1="430.88" y1="839.40" x2="430.88" y2="853.6" stroke="#000" stroke-width="3.2"/>
<text x="405.86" y="889.60" font-size="29.50">−40</text>
<line x1="550.56" y1="839.40" x2="550.56" y2="853.6" stroke="#000" stroke-width="3.2"/>
<text x="525.54" y="889.60" font-size="29.50">−30</text>
<line x1="670.24" y1="839.40" x2="670.24" y2="853.6" stroke="#000" stroke-width="3.2"/>
<text x="645.22" y="889.60" font-size="29.50">−20</text>
<line x1="789.92" y1="839.40" x2="789.92" y2="853.6" stroke="#000" stroke-width="3.2"/>
<text x="764.90" y="889.60" font-size="29.50">−</text><path transform="translate(782.13 889.60) scale(0.01440 -0.01440)" d="M763 0L583 0L583 1147Q518 1085 412 1023Q306 961 222 930L222 1104Q373 1175 486 1276Q599 1377 646 1472L763 1472Z"/><text x="798.53" y="889.60" font-size="29.50">0</text>
<line x1="909.60" y1="839.40" x2="909.60" y2="853.6" stroke="#000" stroke-width="3.2"/>
<text x="901.40" y="889.60" font-size="29.50">0</text>
<line x1="107.60" y1="779.71" x2="93.2" y2="779.71" stroke="#000" stroke-width="3.2"/>
<text x="45.67" y="790.11" font-size="29.50">−5</text>
<line x1="107.60" y1="697.78" x2="93.2" y2="697.78" stroke="#000" stroke-width="3.2"/>
<text x="45.67" y="708.18" font-size="29.50">−4</text>
<line x1="107.60" y1="615.85" x2="93.2" y2="615.85" stroke="#000" stroke-width="3.2"/>
<text x="45.67" y="626.25" font-size="29.50">−3</text>
<line x1="107.60" y1="533.92" x2="93.2" y2="533.92" stroke="#000" stroke-width="3.2"/>
<text x="45.67" y="544.32" font-size="29.50">−2</text>
<line x1="107.60" y1="451.99" x2="93.2" y2="451.99" stroke="#000" stroke-width="3.2"/>
<text x="45.67" y="462.39" font-size="29.50">−</text><path transform="translate(62.89 462.39) scale(0.01440 -0.01440)" d="M763 0L583 0L583 1147Q518 1085 412 1023Q306 961 222 930L222 1104Q373 1175 486 1276Q599 1377 646 1472L763 1472Z"/>
<line x1="107.60" y1="370.06" x2="93.2" y2="370.06" stroke="#000" stroke-width="3.2"/>
<text x="62.89" y="380.46" font-size="29.50">0</text>
<line x1="107.60" y1="288.13" x2="93.2" y2="288.13" stroke="#000" stroke-width="3.2"/>
<path transform="translate(62.89 298.53) scale(0.01440 -0.01440)" d="M763 0L583 0L583 1147Q518 1085 412 1023Q306 961 222 930L222 1104Q373 1175 486 1276Q599 1377 646 1472L763 1472Z"/>
<line x1="107.60" y1="206.20" x2="93.2" y2="206.20" stroke="#000" stroke-width="3.2"/>
<text x="62.89" y="216.60" font-size="29.50">2</text>
<rect x="473.5" y="929.4" width="16.5" height="2.3" fill="#000"/>
<path d="M500.3 917.3 L492.0 931.3 L500.3 945.3" fill="none" stroke="#000" stroke-width="1.7"/>
<text x="502.0" y="939.0" font-size="29.5">Δ</text>
<text x="522.3" y="939.0" font-size="29.5" font-style="italic">t</text>
<path d="M533.2 917.3 L541.2 931.3 L533.2 945.3" fill="none" stroke="#000" stroke-width="1.7"/>
<text x="551.6" y="939.2" font-size="32.5">(ps)</text>
<g transform="translate(0 588.2) rotate(-90)">
<path d="M7.6 1.1 L0.5 15.6 L7.6 30.2" fill="none" stroke="#000" stroke-width="1.7"/>
<text x="11.0" y="24.5" font-size="29.5" font-style="italic" stroke="#000" stroke-width="0.6">ε</text>
<path transform="translate(25.00 35.60) scale(0.01001 -0.01001)" d="M763 0L583 0L583 1147Q518 1085 412 1023Q306 961 222 930L222 1104Q373 1175 486 1276Q599 1377 646 1472L763 1472Z"/>
<path d="M37.0 1.1 L44.4 15.6 L37.0 30.2" fill="none" stroke="#000" stroke-width="1.7"/>
<text x="55.5" y="24.8" font-size="34">(meV)</text>
</g>
</svg></body></html>
